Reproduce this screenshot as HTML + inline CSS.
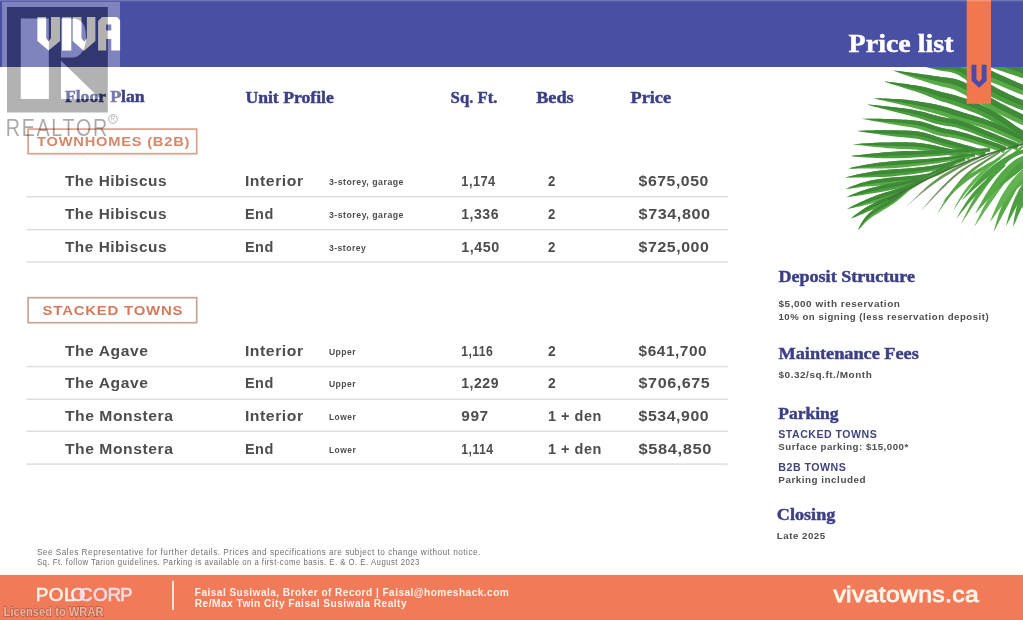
<!DOCTYPE html>
<html><head><meta charset="utf-8"><title>Price list</title>
<style>html,body{margin:0;padding:0;background:#fff;width:1023px;height:620px;overflow:hidden;font-family:"Liberation Sans", sans-serif}svg{display:block;will-change:transform}</style>
</head><body>
<svg width="1023" height="620" viewBox="0 0 1023 620">
<rect width="1023" height="620" fill="#ffffff"/>
<path d="M950.0,52.0 L953.7,53.7 L957.8,55.5 L962.6,57.5 L967.9,59.6 L973.5,61.7 L979.0,63.7 L984.3,65.5 L989.2,67.1 L993.7,68.6 L998.0,70.0 L1002.2,71.3 L1006.3,72.7 L1010.2,74.0 L1014.0,75.3 L1017.7,76.6 L1021.3,77.7 L1024.8,78.8 L1028.1,79.9 L1031.3,80.8 L1034.4,81.7 L1037.1,82.6 L1039.6,83.3 L1041.7,83.9 L1043.6,84.5 L1046.4,75.5 L1044.5,74.9 L1042.4,74.2 L1040.0,73.4 L1037.3,72.5 L1034.3,71.5 L1031.2,70.5 L1027.9,69.3 L1024.6,68.2 L1021.1,66.9 L1017.5,65.6 L1013.8,64.1 L1009.9,62.7 L1005.8,61.1 L1001.5,59.6 L997.0,58.1 L992.2,56.8 L986.9,55.7 L981.3,54.7 L975.4,53.8 L969.5,53.1 L963.7,52.6 L958.6,52.3 L954.0,52.1 L950.0,52.0Z" fill="#4b9f3f"/><path d="M950.0,52.0 L953.8,52.9 L958.2,53.9 L963.2,55.1 L968.7,56.4 L974.5,57.8 L980.2,59.2 L985.6,60.6 L990.7,62.0 L995.3,63.4 L999.8,64.8 L1004.0,66.2 L1008.1,67.7 L1012.0,69.1 L1015.8,70.4 L1019.4,71.7 L1022.9,72.9 L1026.3,74.1 L1029.6,75.2 L1032.8,76.2 L1035.8,77.1 L1038.6,78.0 L1041.0,78.7 L1043.1,79.4 L1045.0,80.0 L1046.4,75.5 L1044.5,74.9 L1042.4,74.2 L1040.0,73.4 L1037.3,72.5 L1034.3,71.5 L1031.2,70.5 L1027.9,69.3 L1024.6,68.2 L1021.1,66.9 L1017.5,65.6 L1013.8,64.1 L1009.9,62.7 L1005.8,61.1 L1001.5,59.6 L997.0,58.1 L992.2,56.8 L986.9,55.7 L981.3,54.7 L975.4,53.8 L969.5,53.1 L963.7,52.6 L958.6,52.3 L954.0,52.1 L950.0,52.0Z" fill="#3f8a37"/><path d="M958.2,53.9 L963.2,55.1 L968.7,56.4 L974.5,57.8 L980.2,59.2 L985.6,60.6 L990.7,62.0 L995.3,63.4 L999.8,64.8 L1004.0,66.2 L1008.1,67.7 L1012.0,69.1 L1015.8,70.4 L1019.4,71.7 L1022.9,72.9 L1026.3,74.1 L1029.6,75.2 L1032.8,76.2 L1035.8,77.1 L1038.6,78.0 L1041.0,78.7 L1043.1,79.4 L1045.0,80.0" fill="none" stroke="#3a7d33" stroke-width="0.7"/><path d="M935.0,57.0 L937.1,58.0 L939.5,59.0 L942.2,60.2 L945.3,61.5 L948.6,62.9 L952.0,64.3 L955.4,65.8 L958.9,67.4 L962.3,69.0 L965.9,70.7 L969.5,72.5 L973.3,74.3 L977.2,76.1 L981.1,77.8 L985.0,79.6 L989.0,81.3 L993.1,82.9 L997.2,84.6 L1001.4,86.3 L1005.5,88.0 L1009.6,89.7 L1013.6,91.4 L1017.5,92.9 L1021.1,94.4 L1024.6,95.7 L1028.0,96.9 L1031.2,98.0 L1034.3,99.1 L1037.0,100.0 L1039.5,100.9 L1041.6,101.6 L1043.5,102.2 L1046.5,93.8 L1044.6,93.1 L1042.5,92.3 L1040.1,91.4 L1037.4,90.4 L1034.4,89.3 L1031.3,88.1 L1028.0,86.9 L1024.7,85.5 L1021.1,84.0 L1017.4,82.4 L1013.5,80.7 L1009.5,78.9 L1005.4,77.0 L1001.2,75.2 L997.1,73.4 L993.1,71.6 L989.0,69.9 L985.0,68.3 L981.0,66.8 L976.9,65.4 L972.9,64.0 L968.9,62.8 L965.0,61.7 L961.1,60.7 L957.3,59.9 L953.5,59.2 L949.8,58.6 L946.2,58.1 L942.9,57.7 L939.9,57.4 L937.3,57.2 L935.0,57.0Z" fill="#57aa46"/><path d="M935.0,57.0 L937.2,57.6 L939.7,58.2 L942.5,59.0 L945.7,59.8 L949.2,60.7 L952.8,61.8 L956.4,62.9 L960.0,64.1 L963.7,65.4 L967.4,66.8 L971.2,68.3 L975.1,69.8 L979.1,71.4 L983.0,73.1 L987.0,74.8 L991.0,76.4 L995.1,78.1 L999.2,79.9 L1003.4,81.7 L1007.5,83.4 L1011.6,85.2 L1015.5,86.9 L1019.3,88.5 L1022.9,89.9 L1026.3,91.3 L1029.6,92.5 L1032.8,93.7 L1035.8,94.8 L1038.6,95.7 L1041.0,96.6 L1043.1,97.3 L1045.0,98.0 L1046.5,93.8 L1044.6,93.1 L1042.5,92.3 L1040.1,91.4 L1037.4,90.4 L1034.4,89.3 L1031.3,88.1 L1028.0,86.9 L1024.7,85.5 L1021.1,84.0 L1017.4,82.4 L1013.5,80.7 L1009.5,78.9 L1005.4,77.0 L1001.2,75.2 L997.1,73.4 L993.1,71.6 L989.0,69.9 L985.0,68.3 L981.0,66.8 L976.9,65.4 L972.9,64.0 L968.9,62.8 L965.0,61.7 L961.1,60.7 L957.3,59.9 L953.5,59.2 L949.8,58.6 L946.2,58.1 L942.9,57.7 L939.9,57.4 L937.3,57.2 L935.0,57.0Z" fill="#3f8a37"/><path d="M939.7,58.2 L942.5,59.0 L945.7,59.8 L949.2,60.7 L952.8,61.8 L956.4,62.9 L960.0,64.1 L963.7,65.4 L967.4,66.8 L971.2,68.3 L975.1,69.8 L979.1,71.4 L983.0,73.1 L987.0,74.8 L991.0,76.4 L995.1,78.1 L999.2,79.9 L1003.4,81.7 L1007.5,83.4 L1011.6,85.2 L1015.5,86.9 L1019.3,88.5 L1022.9,89.9 L1026.3,91.3 L1029.6,92.5 L1032.8,93.7 L1035.8,94.8 L1038.6,95.7 L1041.0,96.6 L1043.1,97.3 L1045.0,98.0" fill="none" stroke="#3a7d33" stroke-width="0.7"/><path d="M925.0,66.5 L926.3,66.9 L927.7,67.4 L929.4,67.8 L931.2,68.4 L933.3,68.9 L935.4,69.5 L937.6,70.1 L939.8,70.6 L942.1,71.0 L944.4,71.3 L946.7,71.5 L948.9,71.8 L951.2,72.3 L953.5,72.9 L955.9,73.8 L958.5,75.1 L961.5,76.9 L964.7,79.1 L968.2,81.7 L972.0,84.5 L975.9,87.4 L980.0,90.2 L984.2,92.9 L988.5,95.3 L992.7,97.6 L997.0,99.6 L1001.3,101.6 L1005.5,103.4 L1009.7,105.2 L1013.6,106.8 L1017.4,108.4 L1021.1,109.8 L1024.5,111.2 L1027.9,112.5 L1031.1,113.7 L1034.2,114.9 L1037.0,115.9 L1039.4,116.7 L1041.5,117.5 L1043.4,118.2 L1046.6,109.8 L1044.7,109.1 L1042.6,108.3 L1040.2,107.3 L1037.4,106.3 L1034.5,105.1 L1031.4,103.9 L1028.1,102.5 L1024.7,101.1 L1021.2,99.5 L1017.4,97.9 L1013.5,96.2 L1009.5,94.4 L1005.5,92.5 L1001.4,90.5 L997.4,88.5 L993.6,86.3 L989.7,84.0 L985.8,81.5 L981.8,78.8 L977.7,76.2 L973.6,73.6 L969.5,71.2 L965.6,69.2 L961.9,67.7 L958.3,66.6 L955.0,65.9 L952.0,65.7 L949.2,65.7 L946.8,65.9 L944.5,66.2 L942.3,66.3 L940.2,66.5 L938.0,66.5 L935.8,66.5 L933.6,66.5 L931.5,66.5 L929.6,66.4 L927.8,66.4 L926.3,66.5 L925.0,66.5Z" fill="#4b9f3f"/><path d="M925.0,66.5 L926.3,66.7 L927.8,66.9 L929.5,67.1 L931.4,67.4 L933.4,67.7 L935.6,68.0 L937.8,68.3 L940.0,68.5 L942.2,68.7 L944.4,68.7 L946.7,68.7 L949.1,68.8 L951.6,69.0 L954.3,69.4 L957.1,70.2 L960.2,71.4 L963.5,73.1 L967.1,75.2 L970.9,77.6 L974.8,80.3 L978.8,83.1 L982.9,85.8 L987.0,88.4 L991.0,90.8 L995.1,93.0 L999.2,95.1 L1003.4,97.0 L1007.5,98.9 L1011.6,100.7 L1015.5,102.4 L1019.3,103.9 L1022.9,105.4 L1026.3,106.9 L1029.6,108.2 L1032.8,109.4 L1035.8,110.6 L1038.6,111.6 L1041.0,112.5 L1043.1,113.3 L1045.0,114.0 L1046.6,109.8 L1044.7,109.1 L1042.6,108.3 L1040.2,107.3 L1037.4,106.3 L1034.5,105.1 L1031.4,103.9 L1028.1,102.5 L1024.7,101.1 L1021.2,99.5 L1017.4,97.9 L1013.5,96.2 L1009.5,94.4 L1005.5,92.5 L1001.4,90.5 L997.4,88.5 L993.6,86.3 L989.7,84.0 L985.8,81.5 L981.8,78.8 L977.7,76.2 L973.6,73.6 L969.5,71.2 L965.6,69.2 L961.9,67.7 L958.3,66.6 L955.0,65.9 L952.0,65.7 L949.2,65.7 L946.8,65.9 L944.5,66.2 L942.3,66.3 L940.2,66.5 L938.0,66.5 L935.8,66.5 L933.6,66.5 L931.5,66.5 L929.6,66.4 L927.8,66.4 L926.3,66.5 L925.0,66.5Z" fill="#3f8a37"/><path d="M927.8,66.9 L929.5,67.1 L931.4,67.4 L933.4,67.7 L935.6,68.0 L937.8,68.3 L940.0,68.5 L942.2,68.7 L944.4,68.7 L946.7,68.7 L949.1,68.8 L951.6,69.0 L954.3,69.4 L957.1,70.2 L960.2,71.4 L963.5,73.1 L967.1,75.2 L970.9,77.6 L974.8,80.3 L978.8,83.1 L982.9,85.8 L987.0,88.4 L991.0,90.8 L995.1,93.0 L999.2,95.1 L1003.4,97.0 L1007.5,98.9 L1011.6,100.7 L1015.5,102.4 L1019.3,103.9 L1022.9,105.4 L1026.3,106.9 L1029.6,108.2 L1032.8,109.4 L1035.8,110.6 L1038.6,111.6 L1041.0,112.5 L1043.1,113.3 L1045.0,114.0" fill="none" stroke="#3a7d33" stroke-width="0.7"/><path d="M893.0,70.5 L895.5,71.5 L898.2,72.5 L901.5,73.7 L905.0,74.9 L908.7,76.2 L912.4,77.5 L915.9,78.7 L919.1,79.7 L922.0,80.6 L924.6,81.5 L927.1,82.3 L929.6,83.0 L931.9,83.7 L934.3,84.4 L936.7,85.1 L939.1,85.7 L941.5,86.4 L943.9,86.9 L946.2,87.4 L948.4,87.9 L950.6,88.5 L952.9,89.2 L955.3,90.1 L958.0,91.4 L961.1,92.9 L964.5,94.8 L968.1,96.9 L972.0,99.2 L976.1,101.5 L980.2,103.9 L984.3,106.3 L988.5,108.6 L992.6,110.7 L996.8,112.9 L1001.0,115.0 L1005.2,117.0 L1009.4,119.0 L1013.4,120.9 L1017.2,122.7 L1020.8,124.4 L1024.4,125.9 L1027.7,127.3 L1031.0,128.6 L1034.0,129.8 L1036.8,130.9 L1039.3,131.8 L1041.4,132.6 L1043.3,133.4 L1046.7,124.6 L1044.8,123.9 L1042.7,123.0 L1040.3,122.1 L1037.6,121.0 L1034.6,119.8 L1031.5,118.4 L1028.3,117.0 L1024.9,115.4 L1021.4,113.8 L1017.7,111.9 L1013.8,110.0 L1009.8,107.9 L1005.7,105.8 L1001.6,103.7 L997.5,101.5 L993.6,99.3 L989.6,97.0 L985.6,94.7 L981.6,92.2 L977.6,89.8 L973.7,87.4 L969.8,85.2 L966.0,83.2 L962.4,81.6 L959.0,80.3 L955.9,79.3 L953.0,78.6 L950.3,78.2 L947.9,77.8 L945.5,77.6 L943.2,77.3 L940.9,77.0 L938.5,76.6 L936.1,76.2 L933.7,75.9 L931.2,75.5 L928.7,75.1 L926.1,74.8 L923.4,74.4 L920.4,73.9 L917.1,73.5 L913.5,73.0 L909.6,72.5 L905.7,72.0 L902.0,71.5 L898.6,71.1 L895.6,70.7 L893.0,70.5Z" fill="#57aa46"/><path d="M893.0,70.5 L895.5,71.1 L898.4,71.8 L901.7,72.6 L905.4,73.4 L909.2,74.3 L912.9,75.2 L916.5,76.1 L919.7,76.8 L922.7,77.5 L925.4,78.1 L927.9,78.7 L930.4,79.2 L932.8,79.8 L935.2,80.3 L937.6,80.8 L940.0,81.4 L942.4,81.8 L944.7,82.2 L947.0,82.6 L949.4,83.0 L951.8,83.6 L954.4,84.3 L957.2,85.2 L960.2,86.5 L963.5,88.1 L967.1,90.0 L970.9,92.1 L974.8,94.5 L978.8,96.9 L982.9,99.3 L987.0,101.7 L991.0,103.9 L995.1,106.1 L999.2,108.3 L1003.4,110.4 L1007.5,112.5 L1011.6,114.5 L1015.5,116.4 L1019.3,118.2 L1022.9,119.9 L1026.3,121.4 L1029.6,122.9 L1032.8,124.2 L1035.8,125.4 L1038.6,126.5 L1041.0,127.4 L1043.1,128.3 L1045.0,129.0 L1046.7,124.6 L1044.8,123.9 L1042.7,123.0 L1040.3,122.1 L1037.6,121.0 L1034.6,119.8 L1031.5,118.4 L1028.3,117.0 L1024.9,115.4 L1021.4,113.8 L1017.7,111.9 L1013.8,110.0 L1009.8,107.9 L1005.7,105.8 L1001.6,103.7 L997.5,101.5 L993.6,99.3 L989.6,97.0 L985.6,94.7 L981.6,92.2 L977.6,89.8 L973.7,87.4 L969.8,85.2 L966.0,83.2 L962.4,81.6 L959.0,80.3 L955.9,79.3 L953.0,78.6 L950.3,78.2 L947.9,77.8 L945.5,77.6 L943.2,77.3 L940.9,77.0 L938.5,76.6 L936.1,76.2 L933.7,75.9 L931.2,75.5 L928.7,75.1 L926.1,74.8 L923.4,74.4 L920.4,73.9 L917.1,73.5 L913.5,73.0 L909.6,72.5 L905.7,72.0 L902.0,71.5 L898.6,71.1 L895.6,70.7 L893.0,70.5Z" fill="#3f8a37"/><path d="M898.4,71.8 L901.7,72.6 L905.4,73.4 L909.2,74.3 L912.9,75.2 L916.5,76.1 L919.7,76.8 L922.7,77.5 L925.4,78.1 L927.9,78.7 L930.4,79.2 L932.8,79.8 L935.2,80.3 L937.6,80.8 L940.0,81.4 L942.4,81.8 L944.7,82.2 L947.0,82.6 L949.4,83.0 L951.8,83.6 L954.4,84.3 L957.2,85.2 L960.2,86.5 L963.5,88.1 L967.1,90.0 L970.9,92.1 L974.8,94.5 L978.8,96.9 L982.9,99.3 L987.0,101.7 L991.0,103.9 L995.1,106.1 L999.2,108.3 L1003.4,110.4 L1007.5,112.5 L1011.6,114.5 L1015.5,116.4 L1019.3,118.2 L1022.9,119.9 L1026.3,121.4 L1029.6,122.9 L1032.8,124.2 L1035.8,125.4 L1038.6,126.5 L1041.0,127.4 L1043.1,128.3 L1045.0,129.0" fill="none" stroke="#3a7d33" stroke-width="0.7"/><path d="M884.0,81.5 L887.4,82.7 L891.2,83.9 L895.6,85.3 L900.5,86.8 L905.5,88.4 L910.4,89.9 L914.8,91.3 L918.7,92.5 L922.0,93.7 L924.8,94.7 L927.3,95.7 L929.6,96.7 L931.8,97.6 L934.0,98.5 L936.3,99.5 L938.7,100.3 L941.1,101.2 L943.5,101.9 L945.8,102.6 L948.1,103.3 L950.5,104.0 L953.0,104.8 L955.6,105.7 L958.6,106.8 L961.8,108.0 L965.3,109.3 L969.1,110.7 L973.0,112.2 L976.9,113.8 L980.9,115.5 L984.8,117.4 L988.7,119.4 L992.6,121.6 L996.6,124.1 L1000.7,126.8 L1004.9,129.6 L1009.0,132.4 L1013.1,135.1 L1017.0,137.5 L1020.8,139.6 L1024.5,141.4 L1028.1,142.8 L1031.5,144.0 L1034.6,144.9 L1037.5,145.6 L1040.0,146.2 L1042.1,146.7 L1044.0,147.1 L1046.0,138.9 L1044.1,138.4 L1042.0,137.8 L1039.6,137.2 L1037.0,136.5 L1034.1,135.7 L1031.2,134.6 L1028.1,133.3 L1025.0,131.8 L1021.6,129.8 L1018.0,127.5 L1014.2,124.9 L1010.1,122.1 L1006.0,119.1 L1001.8,116.2 L997.5,113.5 L993.3,111.0 L989.1,108.8 L984.9,106.7 L980.8,104.8 L976.7,103.1 L972.7,101.5 L968.9,100.0 L965.3,98.6 L961.9,97.4 L958.7,96.4 L955.8,95.5 L953.1,94.8 L950.6,94.2 L948.2,93.6 L945.9,93.1 L943.6,92.5 L941.3,92.0 L939.1,91.3 L936.8,90.7 L934.6,90.0 L932.2,89.3 L929.7,88.5 L927.0,87.8 L923.9,87.1 L920.3,86.3 L916.2,85.6 L911.5,84.9 L906.4,84.1 L901.2,83.4 L896.2,82.8 L891.6,82.3 L887.6,81.8 L884.0,81.5Z" fill="#4b9f3f"/><path d="M884.0,81.5 L887.5,82.2 L891.4,83.1 L895.9,84.1 L900.9,85.1 L906.0,86.2 L910.9,87.4 L915.5,88.4 L919.5,89.4 L922.9,90.4 L925.9,91.3 L928.5,92.1 L930.9,93.0 L933.2,93.8 L935.4,94.6 L937.7,95.4 L940.0,96.2 L942.4,96.9 L944.7,97.5 L947.0,98.1 L949.4,98.7 L951.8,99.4 L954.4,100.2 L957.2,101.1 L960.2,102.1 L963.5,103.3 L967.1,104.6 L970.9,106.1 L974.8,107.6 L978.8,109.3 L982.9,111.1 L987.0,113.1 L991.0,115.2 L995.1,117.6 L999.2,120.2 L1003.4,123.0 L1007.5,125.8 L1011.6,128.7 L1015.5,131.3 L1019.3,133.7 L1022.9,135.7 L1026.3,137.4 L1029.6,138.7 L1032.8,139.8 L1035.8,140.7 L1038.6,141.4 L1041.0,142.0 L1043.1,142.5 L1045.0,143.0 L1046.0,138.9 L1044.1,138.4 L1042.0,137.8 L1039.6,137.2 L1037.0,136.5 L1034.1,135.7 L1031.2,134.6 L1028.1,133.3 L1025.0,131.8 L1021.6,129.8 L1018.0,127.5 L1014.2,124.9 L1010.1,122.1 L1006.0,119.1 L1001.8,116.2 L997.5,113.5 L993.3,111.0 L989.1,108.8 L984.9,106.7 L980.8,104.8 L976.7,103.1 L972.7,101.5 L968.9,100.0 L965.3,98.6 L961.9,97.4 L958.7,96.4 L955.8,95.5 L953.1,94.8 L950.6,94.2 L948.2,93.6 L945.9,93.1 L943.6,92.5 L941.3,92.0 L939.1,91.3 L936.8,90.7 L934.6,90.0 L932.2,89.3 L929.7,88.5 L927.0,87.8 L923.9,87.1 L920.3,86.3 L916.2,85.6 L911.5,84.9 L906.4,84.1 L901.2,83.4 L896.2,82.8 L891.6,82.3 L887.6,81.8 L884.0,81.5Z" fill="#3f8a37"/><path d="M891.4,83.1 L895.9,84.1 L900.9,85.1 L906.0,86.2 L910.9,87.4 L915.5,88.4 L919.5,89.4 L922.9,90.4 L925.9,91.3 L928.5,92.1 L930.9,93.0 L933.2,93.8 L935.4,94.6 L937.7,95.4 L940.0,96.2 L942.4,96.9 L944.7,97.5 L947.0,98.1 L949.4,98.7 L951.8,99.4 L954.4,100.2 L957.2,101.1 L960.2,102.1 L963.5,103.3 L967.1,104.6 L970.9,106.1 L974.8,107.6 L978.8,109.3 L982.9,111.1 L987.0,113.1 L991.0,115.2 L995.1,117.6 L999.2,120.2 L1003.4,123.0 L1007.5,125.8 L1011.6,128.7 L1015.5,131.3 L1019.3,133.7 L1022.9,135.7 L1026.3,137.4 L1029.6,138.7 L1032.8,139.8 L1035.8,140.7 L1038.6,141.4 L1041.0,142.0 L1043.1,142.5 L1045.0,143.0" fill="none" stroke="#3a7d33" stroke-width="0.7"/><path d="M873.2,98.2 L875.7,98.8 L878.5,99.5 L881.7,100.3 L885.3,101.1 L889.0,101.9 L892.7,102.7 L896.2,103.5 L899.4,104.3 L902.2,104.9 L904.9,105.6 L907.4,106.2 L909.8,106.8 L912.1,107.5 L914.5,108.1 L916.8,108.7 L919.2,109.4 L921.7,110.0 L924.1,110.6 L926.6,111.3 L929.1,111.9 L931.5,112.6 L933.9,113.3 L936.4,113.9 L938.7,114.6 L941.1,115.4 L943.3,116.1 L945.6,116.8 L947.9,117.6 L950.3,118.4 L952.9,119.2 L955.8,120.1 L958.8,121.0 L962.2,122.0 L965.7,122.9 L969.3,123.9 L973.2,125.0 L977.1,126.1 L981.1,127.3 L985.3,128.7 L989.7,130.3 L994.4,132.2 L999.6,134.4 L1005.0,136.8 L1010.5,139.3 L1015.7,141.8 L1020.5,144.0 L1024.6,145.9 L1028.3,147.6 L1031.7,140.4 L1028.1,138.6 L1024.0,136.6 L1019.3,134.3 L1014.0,131.7 L1008.6,129.1 L1003.1,126.6 L997.8,124.2 L992.9,122.1 L988.3,120.4 L983.9,118.8 L979.7,117.4 L975.7,116.2 L971.8,115.1 L968.2,114.0 L964.7,113.0 L961.5,112.0 L958.6,111.1 L955.8,110.2 L953.3,109.3 L950.8,108.6 L948.5,107.8 L946.1,107.1 L943.7,106.4 L941.2,105.8 L938.6,105.2 L936.1,104.6 L933.5,104.1 L930.9,103.6 L928.4,103.1 L925.9,102.7 L923.3,102.3 L920.8,101.9 L918.3,101.5 L915.9,101.1 L913.5,100.8 L911.0,100.4 L908.5,100.1 L905.9,99.8 L903.1,99.6 L900.1,99.3 L896.8,99.1 L893.2,98.9 L889.5,98.7 L885.6,98.5 L882.0,98.4 L878.7,98.3 L875.8,98.2 L873.2,98.2Z" fill="#57aa46"/><path d="M873.2,98.2 L875.7,98.5 L878.6,98.9 L881.9,99.3 L885.5,99.8 L889.2,100.3 L893.0,100.8 L896.5,101.3 L899.7,101.8 L902.7,102.3 L905.4,102.7 L907.9,103.2 L910.4,103.6 L912.8,104.1 L915.2,104.6 L917.6,105.1 L920.0,105.6 L922.5,106.1 L925.0,106.7 L927.5,107.2 L930.0,107.8 L932.5,108.3 L935.0,108.9 L937.5,109.6 L940.0,110.2 L942.4,110.9 L944.7,111.6 L947.0,112.3 L949.4,113.1 L951.8,113.9 L954.4,114.7 L957.2,115.6 L960.2,116.5 L963.5,117.5 L966.9,118.5 L970.6,119.5 L974.4,120.6 L978.4,121.8 L982.5,123.1 L986.8,124.5 L991.3,126.2 L996.1,128.2 L1001.3,130.5 L1006.8,133.0 L1012.3,135.5 L1017.5,138.0 L1022.2,140.3 L1026.3,142.3 L1030.0,144.0 L1031.7,140.4 L1028.1,138.6 L1024.0,136.6 L1019.3,134.3 L1014.0,131.7 L1008.6,129.1 L1003.1,126.6 L997.8,124.2 L992.9,122.1 L988.3,120.4 L983.9,118.8 L979.7,117.4 L975.7,116.2 L971.8,115.1 L968.2,114.0 L964.7,113.0 L961.5,112.0 L958.6,111.1 L955.8,110.2 L953.3,109.3 L950.8,108.6 L948.5,107.8 L946.1,107.1 L943.7,106.4 L941.2,105.8 L938.6,105.2 L936.1,104.6 L933.5,104.1 L930.9,103.6 L928.4,103.1 L925.9,102.7 L923.3,102.3 L920.8,101.9 L918.3,101.5 L915.9,101.1 L913.5,100.8 L911.0,100.4 L908.5,100.1 L905.9,99.8 L903.1,99.6 L900.1,99.3 L896.8,99.1 L893.2,98.9 L889.5,98.7 L885.6,98.5 L882.0,98.4 L878.7,98.3 L875.8,98.2 L873.2,98.2Z" fill="#3f8a37"/><path d="M878.6,98.9 L881.9,99.3 L885.5,99.8 L889.2,100.3 L893.0,100.8 L896.5,101.3 L899.7,101.8 L902.7,102.3 L905.4,102.7 L907.9,103.2 L910.4,103.6 L912.8,104.1 L915.2,104.6 L917.6,105.1 L920.0,105.6 L922.5,106.1 L925.0,106.7 L927.5,107.2 L930.0,107.8 L932.5,108.3 L935.0,108.9 L937.5,109.6 L940.0,110.2 L942.4,110.9 L944.7,111.6 L947.0,112.3 L949.4,113.1 L951.8,113.9 L954.4,114.7 L957.2,115.6 L960.2,116.5 L963.5,117.5 L966.9,118.5 L970.6,119.5 L974.4,120.6 L978.4,121.8 L982.5,123.1 L986.8,124.5 L991.3,126.2 L996.1,128.2 L1001.3,130.5 L1006.8,133.0 L1012.3,135.5 L1017.5,138.0 L1022.2,140.3 L1026.3,142.3 L1030.0,144.0" fill="none" stroke="#3a7d33" stroke-width="0.7"/><path d="M867.0,104.6 L870.1,105.5 L873.6,106.4 L877.7,107.5 L882.1,108.7 L886.7,109.8 L891.2,111.0 L895.4,112.0 L899.1,113.0 L902.3,113.8 L905.2,114.5 L907.7,115.1 L910.1,115.8 L912.3,116.4 L914.6,117.0 L916.8,117.6 L919.1,118.3 L921.5,119.0 L923.9,119.8 L926.4,120.7 L928.8,121.5 L931.3,122.4 L933.9,123.2 L936.5,123.9 L939.0,124.6 L941.6,125.1 L944.1,125.6 L946.5,125.9 L948.8,126.2 L951.1,126.6 L953.6,127.0 L956.2,127.6 L959.1,128.4 L962.4,129.4 L965.9,130.7 L969.7,132.1 L973.7,133.6 L977.8,135.2 L981.8,136.8 L985.8,138.3 L989.7,139.8 L993.5,141.3 L997.4,142.8 L1001.2,144.3 L1005.0,145.7 L1008.5,147.0 L1011.6,148.2 L1014.3,149.2 L1016.8,150.2 L1019.2,143.8 L1016.8,142.9 L1014.1,141.8 L1011.0,140.6 L1007.5,139.2 L1003.8,137.7 L1000.0,136.2 L996.1,134.6 L992.3,133.1 L988.5,131.6 L984.6,129.9 L980.5,128.3 L976.5,126.6 L972.5,125.0 L968.6,123.5 L964.8,122.1 L961.4,121.0 L958.2,120.1 L955.2,119.3 L952.5,118.8 L950.0,118.4 L947.6,118.0 L945.4,117.7 L943.1,117.3 L940.9,116.8 L938.5,116.3 L936.1,115.6 L933.7,114.9 L931.2,114.2 L928.6,113.4 L926.1,112.7 L923.5,112.0 L921.0,111.4 L918.5,110.9 L916.1,110.4 L913.8,109.9 L911.4,109.5 L908.9,109.1 L906.3,108.7 L903.4,108.3 L900.1,107.9 L896.3,107.4 L892.0,106.9 L887.3,106.4 L882.6,105.9 L878.0,105.5 L873.9,105.1 L870.2,104.8 L867.0,104.6Z" fill="#4b9f3f"/><path d="M867.0,104.6 L870.2,105.2 L873.7,105.8 L877.8,106.5 L882.4,107.3 L887.0,108.1 L891.6,109.0 L895.8,109.7 L899.6,110.4 L902.8,111.1 L905.7,111.6 L908.3,112.1 L910.7,112.6 L913.1,113.1 L915.3,113.7 L917.7,114.2 L920.1,114.9 L922.5,115.5 L925.0,116.3 L927.5,117.0 L930.0,117.8 L932.5,118.6 L935.0,119.4 L937.5,120.1 L940.0,120.7 L942.4,121.2 L944.7,121.6 L947.0,122.0 L949.4,122.3 L951.8,122.7 L954.4,123.2 L957.2,123.8 L960.2,124.7 L963.6,125.8 L967.2,127.1 L971.1,128.5 L975.1,130.1 L979.2,131.7 L983.2,133.4 L987.1,134.9 L991.0,136.5 L994.8,138.0 L998.7,139.5 L1002.5,141.0 L1006.3,142.4 L1009.7,143.8 L1012.9,145.0 L1015.6,146.1 L1018.0,147.0 L1019.2,143.8 L1016.8,142.9 L1014.1,141.8 L1011.0,140.6 L1007.5,139.2 L1003.8,137.7 L1000.0,136.2 L996.1,134.6 L992.3,133.1 L988.5,131.6 L984.6,129.9 L980.5,128.3 L976.5,126.6 L972.5,125.0 L968.6,123.5 L964.8,122.1 L961.4,121.0 L958.2,120.1 L955.2,119.3 L952.5,118.8 L950.0,118.4 L947.6,118.0 L945.4,117.7 L943.1,117.3 L940.9,116.8 L938.5,116.3 L936.1,115.6 L933.7,114.9 L931.2,114.2 L928.6,113.4 L926.1,112.7 L923.5,112.0 L921.0,111.4 L918.5,110.9 L916.1,110.4 L913.8,109.9 L911.4,109.5 L908.9,109.1 L906.3,108.7 L903.4,108.3 L900.1,107.9 L896.3,107.4 L892.0,106.9 L887.3,106.4 L882.6,105.9 L878.0,105.5 L873.9,105.1 L870.2,104.8 L867.0,104.6Z" fill="#3f8a37"/><path d="M873.7,105.8 L877.8,106.5 L882.4,107.3 L887.0,108.1 L891.6,109.0 L895.8,109.7 L899.6,110.4 L902.8,111.1 L905.7,111.6 L908.3,112.1 L910.7,112.6 L913.1,113.1 L915.3,113.7 L917.7,114.2 L920.1,114.9 L922.5,115.5 L925.0,116.3 L927.5,117.0 L930.0,117.8 L932.5,118.6 L935.0,119.4 L937.5,120.1 L940.0,120.7 L942.4,121.2 L944.7,121.6 L947.0,122.0 L949.4,122.3 L951.8,122.7 L954.4,123.2 L957.2,123.8 L960.2,124.7 L963.6,125.8 L967.2,127.1 L971.1,128.5 L975.1,130.1 L979.2,131.7 L983.2,133.4 L987.1,134.9 L991.0,136.5 L994.8,138.0 L998.7,139.5 L1002.5,141.0 L1006.3,142.4 L1009.7,143.8 L1012.9,145.0 L1015.6,146.1 L1018.0,147.0" fill="none" stroke="#3a7d33" stroke-width="0.7"/><path d="M861.7,118.8 L865.4,119.6 L869.5,120.3 L874.3,121.2 L879.6,122.1 L885.0,123.1 L890.2,124.0 L895.0,124.7 L899.1,125.4 L902.7,126.0 L905.7,126.4 L908.3,126.8 L910.6,127.2 L912.8,127.6 L914.8,128.0 L917.0,128.4 L919.2,129.0 L921.5,129.7 L923.8,130.4 L926.2,131.3 L928.7,132.1 L931.2,133.0 L933.8,133.9 L936.4,134.7 L939.0,135.4 L941.5,136.0 L944.0,136.5 L946.4,136.9 L948.8,137.3 L951.1,137.6 L953.6,138.1 L956.4,138.6 L959.4,139.3 L962.8,140.2 L966.5,141.2 L970.6,142.4 L974.8,143.7 L978.9,144.9 L982.8,146.1 L986.4,147.3 L989.6,148.3 L992.3,149.1 L994.7,149.9 L996.8,150.6 L998.6,151.3 L1000.2,151.8 L1001.5,152.3 L1002.7,152.8 L1003.8,153.2 L1006.2,146.8 L1005.1,146.4 L1003.9,145.9 L1002.6,145.4 L1000.9,144.8 L999.1,144.1 L996.9,143.3 L994.5,142.5 L991.8,141.6 L988.6,140.5 L985.0,139.3 L981.1,138.0 L976.9,136.7 L972.7,135.4 L968.6,134.1 L964.8,133.0 L961.2,132.0 L958.0,131.2 L955.1,130.5 L952.5,130.0 L950.0,129.6 L947.7,129.2 L945.4,128.8 L943.2,128.3 L940.9,127.8 L938.6,127.1 L936.2,126.3 L933.8,125.5 L931.3,124.6 L928.8,123.8 L926.2,122.9 L923.6,122.2 L921.0,121.6 L918.5,121.1 L916.1,120.7 L913.8,120.4 L911.5,120.2 L909.0,120.0 L906.4,119.8 L903.3,119.7 L899.8,119.5 L895.5,119.3 L890.7,119.1 L885.4,119.0 L879.9,118.8 L874.5,118.8 L869.7,118.7 L865.4,118.7 L861.7,118.8Z" fill="#57aa46"/><path d="M861.7,118.8 L865.4,119.1 L869.6,119.5 L874.4,120.0 L879.7,120.5 L885.2,121.0 L890.4,121.5 L895.3,122.0 L899.4,122.4 L903.0,122.8 L906.0,123.1 L908.7,123.4 L911.0,123.7 L913.3,124.0 L915.5,124.3 L917.7,124.8 L920.1,125.3 L922.5,125.9 L925.0,126.7 L927.5,127.5 L930.0,128.4 L932.5,129.3 L935.0,130.1 L937.5,130.9 L940.0,131.6 L942.4,132.2 L944.7,132.7 L947.0,133.1 L949.4,133.4 L951.8,133.8 L954.4,134.3 L957.2,134.9 L960.3,135.7 L963.8,136.6 L967.6,137.7 L971.7,138.9 L975.8,140.2 L980.0,141.5 L983.9,142.7 L987.5,143.9 L990.7,144.9 L993.4,145.8 L995.8,146.6 L997.9,147.4 L999.8,148.0 L1001.4,148.6 L1002.7,149.1 L1003.9,149.6 L1005.0,150.0 L1006.2,146.8 L1005.1,146.4 L1003.9,145.9 L1002.6,145.4 L1000.9,144.8 L999.1,144.1 L996.9,143.3 L994.5,142.5 L991.8,141.6 L988.6,140.5 L985.0,139.3 L981.1,138.0 L976.9,136.7 L972.7,135.4 L968.6,134.1 L964.8,133.0 L961.2,132.0 L958.0,131.2 L955.1,130.5 L952.5,130.0 L950.0,129.6 L947.7,129.2 L945.4,128.8 L943.2,128.3 L940.9,127.8 L938.6,127.1 L936.2,126.3 L933.8,125.5 L931.3,124.6 L928.8,123.8 L926.2,122.9 L923.6,122.2 L921.0,121.6 L918.5,121.1 L916.1,120.7 L913.8,120.4 L911.5,120.2 L909.0,120.0 L906.4,119.8 L903.3,119.7 L899.8,119.5 L895.5,119.3 L890.7,119.1 L885.4,119.0 L879.9,118.8 L874.5,118.8 L869.7,118.7 L865.4,118.7 L861.7,118.8Z" fill="#3f8a37"/><path d="M869.6,119.5 L874.4,120.0 L879.7,120.5 L885.2,121.0 L890.4,121.5 L895.3,122.0 L899.4,122.4 L903.0,122.8 L906.0,123.1 L908.7,123.4 L911.0,123.7 L913.3,124.0 L915.5,124.3 L917.7,124.8 L920.1,125.3 L922.5,125.9 L925.0,126.7 L927.5,127.5 L930.0,128.4 L932.5,129.3 L935.0,130.1 L937.5,130.9 L940.0,131.6 L942.4,132.2 L944.7,132.7 L947.0,133.1 L949.4,133.4 L951.8,133.8 L954.4,134.3 L957.2,134.9 L960.3,135.7 L963.8,136.6 L967.6,137.7 L971.7,138.9 L975.8,140.2 L980.0,141.5 L983.9,142.7 L987.5,143.9 L990.7,144.9 L993.4,145.8 L995.8,146.6 L997.9,147.4 L999.8,148.0 L1001.4,148.6 L1002.7,149.1 L1003.9,149.6 L1005.0,150.0" fill="none" stroke="#3a7d33" stroke-width="0.7"/><path d="M857.0,131.0 L861.2,131.7 L865.9,132.5 L871.3,133.3 L877.2,134.1 L883.3,135.0 L889.2,135.7 L894.6,136.4 L899.1,136.9 L902.9,137.3 L906.1,137.6 L908.7,137.8 L911.0,138.0 L913.1,138.3 L915.1,138.5 L917.2,138.8 L919.4,139.3 L921.7,139.8 L924.0,140.4 L926.4,141.0 L928.9,141.7 L931.4,142.5 L933.9,143.3 L936.4,144.1 L939.0,144.8 L941.4,145.5 L943.9,146.2 L946.3,146.9 L948.8,147.5 L951.3,148.2 L953.8,148.9 L956.5,149.6 L959.3,150.3 L962.4,151.2 L965.7,152.1 L969.2,153.0 L972.7,154.0 L976.1,154.9 L979.2,155.7 L981.8,156.4 L984.1,157.1 L985.9,150.9 L983.5,150.3 L980.9,149.5 L977.9,148.6 L974.5,147.6 L971.0,146.6 L967.5,145.6 L964.2,144.7 L961.1,143.8 L958.3,143.0 L955.7,142.2 L953.1,141.5 L950.7,140.8 L948.2,140.1 L945.8,139.4 L943.4,138.7 L941.0,137.9 L938.6,137.2 L936.1,136.4 L933.6,135.5 L931.1,134.7 L928.6,133.9 L926.0,133.2 L923.4,132.5 L920.8,131.9 L918.4,131.5 L916.1,131.2 L913.8,130.9 L911.6,130.8 L909.2,130.7 L906.5,130.6 L903.3,130.5 L899.5,130.4 L894.9,130.3 L889.6,130.3 L883.6,130.3 L877.5,130.3 L871.5,130.5 L866.0,130.6 L861.2,130.8 L857.0,131.0Z" fill="#4b9f3f"/><path d="M857.0,131.0 L861.2,131.3 L865.9,131.5 L871.4,131.9 L877.4,132.2 L883.5,132.6 L889.4,133.0 L894.8,133.4 L899.3,133.7 L903.1,133.9 L906.3,134.1 L908.9,134.3 L911.3,134.4 L913.5,134.6 L915.6,134.8 L917.8,135.2 L920.1,135.6 L922.5,136.1 L925.0,136.8 L927.5,137.5 L930.0,138.2 L932.5,139.0 L935.0,139.8 L937.5,140.6 L940.0,141.4 L942.4,142.1 L944.9,142.8 L947.3,143.5 L949.7,144.1 L952.2,144.8 L954.7,145.5 L957.4,146.3 L960.2,147.1 L963.3,147.9 L966.6,148.9 L970.1,149.8 L973.6,150.8 L977.0,151.8 L980.0,152.6 L982.7,153.3 L985.0,154.0 L985.9,150.9 L983.5,150.3 L980.9,149.5 L977.9,148.6 L974.5,147.6 L971.0,146.6 L967.5,145.6 L964.2,144.7 L961.1,143.8 L958.3,143.0 L955.7,142.2 L953.1,141.5 L950.7,140.8 L948.2,140.1 L945.8,139.4 L943.4,138.7 L941.0,137.9 L938.6,137.2 L936.1,136.4 L933.6,135.5 L931.1,134.7 L928.6,133.9 L926.0,133.2 L923.4,132.5 L920.8,131.9 L918.4,131.5 L916.1,131.2 L913.8,130.9 L911.6,130.8 L909.2,130.7 L906.5,130.6 L903.3,130.5 L899.5,130.4 L894.9,130.3 L889.6,130.3 L883.6,130.3 L877.5,130.3 L871.5,130.5 L866.0,130.6 L861.2,130.8 L857.0,131.0Z" fill="#3f8a37"/><path d="M865.9,131.5 L871.4,131.9 L877.4,132.2 L883.5,132.6 L889.4,133.0 L894.8,133.4 L899.3,133.7 L903.1,133.9 L906.3,134.1 L908.9,134.3 L911.3,134.4 L913.5,134.6 L915.6,134.8 L917.8,135.2 L920.1,135.6 L922.5,136.1 L925.0,136.8 L927.5,137.5 L930.0,138.2 L932.5,139.0 L935.0,139.8 L937.5,140.6 L940.0,141.4 L942.4,142.1 L944.9,142.8 L947.3,143.5 L949.7,144.1 L952.2,144.8 L954.7,145.5 L957.4,146.3 L960.2,147.1 L963.3,147.9 L966.6,148.9 L970.1,149.8 L973.6,150.8 L977.0,151.8 L980.0,152.6 L982.7,153.3 L985.0,154.0" fill="none" stroke="#3a7d33" stroke-width="0.7"/><path d="M852.9,144.3 L857.5,145.0 L862.7,145.6 L868.7,146.3 L875.3,147.0 L882.0,147.6 L888.4,148.2 L894.2,148.6 L899.1,148.9 L903.1,149.1 L906.4,149.2 L909.1,149.3 L911.4,149.4 L913.5,149.5 L915.5,149.6 L917.5,149.7 L919.7,149.9 L922.0,150.2 L924.3,150.5 L926.5,150.8 L928.8,151.2 L931.2,151.6 L933.8,152.1 L936.6,152.6 L939.7,153.3 L943.1,154.0 L947.0,154.8 L951.2,155.8 L955.4,156.7 L959.5,157.6 L963.2,158.5 L966.4,159.2 L969.3,159.9 L970.7,154.1 L967.8,153.4 L964.6,152.6 L960.9,151.7 L956.8,150.7 L952.6,149.6 L948.4,148.6 L944.5,147.7 L941.0,146.9 L937.9,146.2 L935.1,145.6 L932.5,145.1 L930.0,144.6 L927.6,144.2 L925.2,143.8 L922.8,143.4 L920.5,143.1 L918.1,142.9 L916.0,142.7 L913.8,142.5 L911.7,142.4 L909.3,142.4 L906.6,142.3 L903.3,142.3 L899.3,142.3 L894.4,142.3 L888.6,142.4 L882.1,142.5 L875.4,142.8 L868.8,143.2 L862.8,143.5 L857.5,143.9 L852.9,144.3Z" fill="#57aa46"/><path d="M852.9,144.3 L857.5,144.4 L862.7,144.6 L868.7,144.7 L875.3,144.9 L882.0,145.1 L888.5,145.3 L894.3,145.4 L899.2,145.6 L903.2,145.7 L906.5,145.8 L909.2,145.9 L911.5,145.9 L913.7,146.0 L915.7,146.1 L917.8,146.3 L920.1,146.5 L922.4,146.8 L924.7,147.1 L927.1,147.5 L929.4,147.9 L931.9,148.4 L934.4,148.9 L937.2,149.4 L940.3,150.1 L943.8,150.9 L947.7,151.7 L951.9,152.7 L956.1,153.7 L960.2,154.7 L963.9,155.6 L967.1,156.3 L970.0,157.0 L970.7,154.1 L967.8,153.4 L964.6,152.6 L960.9,151.7 L956.8,150.7 L952.6,149.6 L948.4,148.6 L944.5,147.7 L941.0,146.9 L937.9,146.2 L935.1,145.6 L932.5,145.1 L930.0,144.6 L927.6,144.2 L925.2,143.8 L922.8,143.4 L920.5,143.1 L918.1,142.9 L916.0,142.7 L913.8,142.5 L911.7,142.4 L909.3,142.4 L906.6,142.3 L903.3,142.3 L899.3,142.3 L894.4,142.3 L888.6,142.4 L882.1,142.5 L875.4,142.8 L868.8,143.2 L862.8,143.5 L857.5,143.9 L852.9,144.3Z" fill="#3f8a37"/><path d="M862.7,144.6 L868.7,144.7 L875.3,144.9 L882.0,145.1 L888.5,145.3 L894.3,145.4 L899.2,145.6 L903.2,145.7 L906.5,145.8 L909.2,145.9 L911.5,145.9 L913.7,146.0 L915.7,146.1 L917.8,146.3 L920.1,146.5 L922.4,146.8 L924.7,147.1 L927.1,147.5 L929.4,147.9 L931.9,148.4 L934.4,148.9 L937.2,149.4 L940.3,150.1 L943.8,150.9 L947.7,151.7 L951.9,152.7 L956.1,153.7 L960.2,154.7 L963.9,155.6 L967.1,156.3 L970.0,157.0" fill="none" stroke="#3a7d33" stroke-width="0.7"/><path d="M850.7,156.0 L852.0,156.2 L853.4,156.4 L855.0,156.5 L857.0,156.8 L859.4,157.0 L862.4,157.2 L866.2,157.5 L870.8,157.8 L876.4,158.0 L882.8,158.2 L890.0,158.3 L897.8,158.2 L905.9,158.0 L914.1,157.5 L922.2,157.0 L930.2,156.5 L938.4,155.9 L946.7,155.3 L955.2,154.6 L963.5,153.9 L971.4,153.3 L978.5,152.7 L984.6,152.2 L990.1,151.7 L989.9,148.3 L984.4,148.5 L978.2,148.7 L971.1,149.0 L963.3,149.3 L954.9,149.6 L946.4,149.9 L938.1,150.2 L929.9,150.5 L921.9,150.7 L913.8,150.9 L905.6,151.0 L897.6,151.4 L889.8,152.0 L882.6,152.6 L876.2,153.2 L870.7,153.8 L866.1,154.3 L862.4,154.7 L859.4,155.0 L856.9,155.3 L855.0,155.5 L853.4,155.7 L852.0,155.8 L850.7,156.0Z" fill="#4b9f3f"/><path d="M850.7,156.0 L852.0,156.0 L853.4,156.0 L855.0,156.0 L857.0,156.0 L859.4,156.0 L862.4,156.0 L866.2,155.9 L870.8,155.8 L876.3,155.6 L882.7,155.4 L889.9,155.1 L897.7,154.8 L905.8,154.5 L913.9,154.2 L922.0,153.8 L930.1,153.5 L938.2,153.1 L946.6,152.6 L955.0,152.1 L963.4,151.6 L971.3,151.1 L978.4,150.7 L984.5,150.3 L990.0,150.0 L989.9,148.3 L984.4,148.5 L978.2,148.7 L971.1,149.0 L963.3,149.3 L954.9,149.6 L946.4,149.9 L938.1,150.2 L929.9,150.5 L921.9,150.7 L913.8,150.9 L905.6,151.0 L897.6,151.4 L889.8,152.0 L882.6,152.6 L876.2,153.2 L870.7,153.8 L866.1,154.3 L862.4,154.7 L859.4,155.0 L856.9,155.3 L855.0,155.5 L853.4,155.7 L852.0,155.8 L850.7,156.0Z" fill="#3f8a37"/><path d="M853.4,156.0 L855.0,156.0 L857.0,156.0 L859.4,156.0 L862.4,156.0 L866.2,155.9 L870.8,155.8 L876.3,155.6 L882.7,155.4 L889.9,155.1 L897.7,154.8 L905.8,154.5 L913.9,154.2 L922.0,153.8 L930.1,153.5 L938.2,153.1 L946.6,152.6 L955.0,152.1 L963.4,151.6 L971.3,151.1 L978.4,150.7 L984.5,150.3 L990.0,150.0" fill="none" stroke="#3a7d33" stroke-width="0.7"/><path d="M848.0,168.6 L849.6,168.6 L851.3,168.7 L853.3,168.7 L855.7,168.7 L858.6,168.6 L862.0,168.6 L866.0,168.6 L870.9,168.6 L876.8,168.6 L883.5,168.4 L891.0,168.2 L899.0,167.7 L907.1,166.9 L915.1,166.1 L922.8,165.2 L930.0,164.3 L936.9,163.4 L943.6,162.3 L950.1,161.3 L956.2,160.2 L961.9,159.2 L967.0,158.2 L971.4,157.4 L975.3,156.7 L974.7,153.3 L970.8,153.8 L966.4,154.4 L961.3,155.1 L955.6,155.9 L949.4,156.7 L942.9,157.4 L936.3,158.1 L929.4,158.8 L922.2,159.3 L914.6,159.8 L906.6,160.3 L898.4,160.7 L890.5,161.4 L883.0,162.2 L876.3,163.0 L870.6,163.9 L865.7,164.7 L861.7,165.5 L858.3,166.2 L855.5,166.8 L853.2,167.3 L851.2,167.8 L849.5,168.2 L848.0,168.6Z" fill="#57aa46"/><path d="M848.0,168.6 L849.6,168.4 L851.3,168.2 L853.2,168.0 L855.6,167.7 L858.4,167.4 L861.8,167.1 L865.9,166.7 L870.8,166.3 L876.6,165.8 L883.3,165.3 L890.7,164.8 L898.7,164.2 L906.8,163.6 L914.8,162.9 L922.5,162.3 L929.7,161.5 L936.6,160.7 L943.3,159.9 L949.7,159.0 L955.9,158.0 L961.6,157.1 L966.7,156.3 L971.1,155.6 L975.0,155.0 L974.7,153.3 L970.8,153.8 L966.4,154.4 L961.3,155.1 L955.6,155.9 L949.4,156.7 L942.9,157.4 L936.3,158.1 L929.4,158.8 L922.2,159.3 L914.6,159.8 L906.6,160.3 L898.4,160.7 L890.5,161.4 L883.0,162.2 L876.3,163.0 L870.6,163.9 L865.7,164.7 L861.7,165.5 L858.3,166.2 L855.5,166.8 L853.2,167.3 L851.2,167.8 L849.5,168.2 L848.0,168.6Z" fill="#3f8a37"/><path d="M851.3,168.2 L853.2,168.0 L855.6,167.7 L858.4,167.4 L861.8,167.1 L865.9,166.7 L870.8,166.3 L876.6,165.8 L883.3,165.3 L890.7,164.8 L898.7,164.2 L906.8,163.6 L914.8,162.9 L922.5,162.3 L929.7,161.5 L936.6,160.7 L943.3,159.9 L949.7,159.0 L955.9,158.0 L961.6,157.1 L966.7,156.3 L971.1,155.6 L975.0,155.0" fill="none" stroke="#3a7d33" stroke-width="0.7"/><path d="M845.4,177.6 L847.3,177.6 L849.3,177.6 L851.7,177.6 L854.4,177.6 L857.7,177.6 L861.4,177.5 L865.8,177.4 L871.0,177.3 L877.0,177.1 L884.0,176.9 L891.6,176.4 L899.7,175.6 L907.9,174.7 L915.8,173.7 L923.2,172.6 L929.9,171.5 L936.0,170.2 L941.6,168.8 L946.8,167.2 L951.5,165.7 L955.8,164.2 L959.5,162.9 L962.7,161.7 L965.6,160.7 L964.4,157.3 L961.5,158.2 L958.3,159.2 L954.5,160.4 L950.3,161.7 L945.6,163.0 L940.5,164.2 L935.0,165.3 L929.0,166.3 L922.4,167.1 L915.1,167.8 L907.3,168.4 L899.1,168.9 L891.0,169.4 L883.4,170.2 L876.5,171.1 L870.5,172.0 L865.4,172.9 L861.0,173.8 L857.3,174.6 L854.2,175.3 L851.5,176.0 L849.2,176.6 L847.2,177.1 L845.4,177.6Z" fill="#4b9f3f"/><path d="M845.4,177.6 L847.2,177.4 L849.2,177.1 L851.6,176.8 L854.3,176.5 L857.5,176.1 L861.2,175.7 L865.6,175.2 L870.7,174.7 L876.8,174.1 L883.7,173.5 L891.3,172.9 L899.4,172.3 L907.6,171.5 L915.5,170.7 L922.8,169.9 L929.5,168.9 L935.5,167.8 L941.1,166.5 L946.2,165.1 L950.9,163.7 L955.1,162.3 L958.9,161.1 L962.1,160.0 L965.0,159.0 L964.4,157.3 L961.5,158.2 L958.3,159.2 L954.5,160.4 L950.3,161.7 L945.6,163.0 L940.5,164.2 L935.0,165.3 L929.0,166.3 L922.4,167.1 L915.1,167.8 L907.3,168.4 L899.1,168.9 L891.0,169.4 L883.4,170.2 L876.5,171.1 L870.5,172.0 L865.4,172.9 L861.0,173.8 L857.3,174.6 L854.2,175.3 L851.5,176.0 L849.2,176.6 L847.2,177.1 L845.4,177.6Z" fill="#3f8a37"/><path d="M849.2,177.1 L851.6,176.8 L854.3,176.5 L857.5,176.1 L861.2,175.7 L865.6,175.2 L870.7,174.7 L876.8,174.1 L883.7,173.5 L891.3,172.9 L899.4,172.3 L907.6,171.5 L915.5,170.7 L922.8,169.9 L929.5,168.9 L935.5,167.8 L941.1,166.5 L946.2,165.1 L950.9,163.7 L955.1,162.3 L958.9,161.1 L962.1,160.0 L965.0,159.0" fill="none" stroke="#3a7d33" stroke-width="0.7"/><path d="M845.4,189.2 L847.3,189.0 L849.4,188.7 L851.8,188.3 L854.6,187.9 L857.9,187.5 L861.6,187.0 L866.0,186.6 L871.2,186.2 L877.3,185.7 L884.3,185.2 L892.1,184.4 L900.3,183.3 L908.6,182.2 L916.4,181.0 L923.6,179.7 L929.8,178.3 L935.2,176.6 L939.7,174.8 L943.6,172.8 L946.9,170.8 L949.8,168.9 L952.1,167.2 L954.1,165.7 L956.0,164.5 L954.0,161.5 L952.1,162.8 L950.0,164.1 L947.6,165.7 L944.9,167.3 L941.7,169.0 L938.0,170.7 L933.7,172.1 L928.6,173.4 L922.6,174.5 L915.6,175.4 L907.8,176.2 L899.6,176.9 L891.4,177.5 L883.6,178.4 L876.5,179.5 L870.4,180.6 L865.2,181.9 L860.8,183.1 L857.1,184.4 L854.0,185.5 L851.3,186.6 L849.1,187.6 L847.1,188.4 L845.4,189.2Z" fill="#57aa46"/><path d="M845.4,189.2 L847.2,188.7 L849.2,188.1 L851.6,187.5 L854.3,186.7 L857.5,185.9 L861.2,185.1 L865.6,184.3 L870.8,183.4 L876.9,182.6 L883.9,181.8 L891.8,181.0 L900.0,180.1 L908.2,179.2 L916.0,178.2 L923.1,177.1 L929.2,175.8 L934.4,174.4 L938.9,172.7 L942.6,170.9 L945.9,169.1 L948.7,167.3 L951.1,165.7 L953.1,164.3 L955.0,163.0 L954.0,161.5 L952.1,162.8 L950.0,164.1 L947.6,165.7 L944.9,167.3 L941.7,169.0 L938.0,170.7 L933.7,172.1 L928.6,173.4 L922.6,174.5 L915.6,175.4 L907.8,176.2 L899.6,176.9 L891.4,177.5 L883.6,178.4 L876.5,179.5 L870.4,180.6 L865.2,181.9 L860.8,183.1 L857.1,184.4 L854.0,185.5 L851.3,186.6 L849.1,187.6 L847.1,188.4 L845.4,189.2Z" fill="#3f8a37"/><path d="M849.2,188.1 L851.6,187.5 L854.3,186.7 L857.5,185.9 L861.2,185.1 L865.6,184.3 L870.8,183.4 L876.9,182.6 L883.9,181.8 L891.8,181.0 L900.0,180.1 L908.2,179.2 L916.0,178.2 L923.1,177.1 L929.2,175.8 L934.4,174.4 L938.9,172.7 L942.6,170.9 L945.9,169.1 L948.7,167.3 L951.1,165.7 L953.1,164.3 L955.0,163.0" fill="none" stroke="#3a7d33" stroke-width="0.7"/><path d="M846.3,197.2 L848.2,197.0 L850.4,196.7 L852.8,196.3 L855.6,195.9 L858.9,195.4 L862.5,194.9 L866.5,194.3 L871.1,193.6 L876.4,192.7 L882.3,191.7 L888.8,190.4 L895.5,188.9 L902.3,187.2 L908.8,185.6 L914.8,183.9 L920.2,182.2 L925.0,180.4 L929.2,178.5 L932.9,176.5 L936.3,174.5 L939.2,172.7 L941.7,171.1 L943.9,169.6 L945.8,168.4 L944.2,165.6 L942.1,166.8 L939.9,168.1 L937.3,169.6 L934.4,171.2 L931.1,172.9 L927.4,174.6 L923.3,176.2 L918.8,177.7 L913.5,179.1 L907.6,180.4 L901.1,181.7 L894.3,182.9 L887.5,184.1 L881.0,185.4 L875.2,186.9 L870.0,188.3 L865.4,189.7 L861.5,191.1 L858.0,192.3 L855.0,193.5 L852.3,194.6 L850.0,195.5 L848.1,196.4 L846.3,197.2Z" fill="#4b9f3f"/><path d="M846.3,197.2 L848.2,196.7 L850.2,196.1 L852.6,195.5 L855.3,194.7 L858.4,193.9 L862.0,193.0 L866.0,192.0 L870.6,190.9 L875.8,189.8 L881.7,188.6 L888.2,187.3 L894.9,185.9 L901.7,184.5 L908.2,183.0 L914.2,181.5 L919.5,179.9 L924.1,178.3 L928.3,176.5 L932.0,174.7 L935.3,172.9 L938.3,171.1 L940.8,169.6 L943.0,168.2 L945.0,167.0 L944.2,165.6 L942.1,166.8 L939.9,168.1 L937.3,169.6 L934.4,171.2 L931.1,172.9 L927.4,174.6 L923.3,176.2 L918.8,177.7 L913.5,179.1 L907.6,180.4 L901.1,181.7 L894.3,182.9 L887.5,184.1 L881.0,185.4 L875.2,186.9 L870.0,188.3 L865.4,189.7 L861.5,191.1 L858.0,192.3 L855.0,193.5 L852.3,194.6 L850.0,195.5 L848.1,196.4 L846.3,197.2Z" fill="#3f8a37"/><path d="M850.2,196.1 L852.6,195.5 L855.3,194.7 L858.4,193.9 L862.0,193.0 L866.0,192.0 L870.6,190.9 L875.8,189.8 L881.7,188.6 L888.2,187.3 L894.9,185.9 L901.7,184.5 L908.2,183.0 L914.2,181.5 L919.5,179.9 L924.1,178.3 L928.3,176.5 L932.0,174.7 L935.3,172.9 L938.3,171.1 L940.8,169.6 L943.0,168.2 L945.0,167.0" fill="none" stroke="#3a7d33" stroke-width="0.7"/><path d="M847.0,209.0 L849.0,208.7 L851.2,208.2 L853.8,207.7 L856.7,207.1 L859.9,206.4 L863.4,205.6 L867.2,204.6 L871.2,203.6 L875.6,202.3 L880.5,200.9 L885.6,199.2 L890.9,197.3 L896.2,195.3 L901.3,193.3 L906.2,191.2 L910.7,189.2 L914.9,187.0 L918.8,184.8 L922.5,182.6 L925.8,180.4 L928.9,178.3 L931.5,176.4 L933.8,174.8 L935.9,173.4 L934.1,170.6 L932.0,172.0 L929.6,173.5 L926.8,175.2 L923.7,177.0 L920.3,179.0 L916.7,181.0 L912.8,182.9 L908.7,184.7 L904.3,186.4 L899.4,188.1 L894.3,189.8 L888.9,191.5 L883.6,193.1 L878.4,194.8 L873.7,196.6 L869.4,198.3 L865.5,199.9 L862.0,201.5 L858.7,203.0 L855.8,204.5 L853.1,205.8 L850.8,207.0 L848.8,208.0 L847.0,209.0Z" fill="#57aa46"/><path d="M847.0,209.0 L848.9,208.3 L851.0,207.6 L853.5,206.8 L856.2,205.8 L859.3,204.7 L862.7,203.5 L866.4,202.3 L870.3,200.9 L874.7,199.4 L879.4,197.9 L884.6,196.2 L889.9,194.4 L895.2,192.6 L900.4,190.7 L905.2,188.8 L909.7,186.9 L913.9,185.0 L917.7,182.9 L921.4,180.8 L924.8,178.7 L927.8,176.7 L930.5,174.9 L932.9,173.4 L935.0,172.0 L934.1,170.6 L932.0,172.0 L929.6,173.5 L926.8,175.2 L923.7,177.0 L920.3,179.0 L916.7,181.0 L912.8,182.9 L908.7,184.7 L904.3,186.4 L899.4,188.1 L894.3,189.8 L888.9,191.5 L883.6,193.1 L878.4,194.8 L873.7,196.6 L869.4,198.3 L865.5,199.9 L862.0,201.5 L858.7,203.0 L855.8,204.5 L853.1,205.8 L850.8,207.0 L848.8,208.0 L847.0,209.0Z" fill="#3f8a37"/><path d="M851.0,207.6 L853.5,206.8 L856.2,205.8 L859.3,204.7 L862.7,203.5 L866.4,202.3 L870.3,200.9 L874.7,199.4 L879.4,197.9 L884.6,196.2 L889.9,194.4 L895.2,192.6 L900.4,190.7 L905.2,188.8 L909.7,186.9 L913.9,185.0 L917.7,182.9 L921.4,180.8 L924.8,178.7 L927.8,176.7 L930.5,174.9 L932.9,173.4 L935.0,172.0" fill="none" stroke="#3a7d33" stroke-width="0.7"/><path d="M850.7,218.7 L852.5,218.0 L854.5,217.3 L856.8,216.4 L859.3,215.3 L862.1,214.2 L865.0,212.9 L868.1,211.6 L871.3,210.3 L874.7,208.9 L878.2,207.4 L882.0,205.8 L885.9,204.0 L889.8,202.1 L893.6,200.1 L897.4,198.1 L901.1,196.0 L904.8,193.7 L908.3,191.3 L911.9,188.8 L915.3,186.3 L918.4,183.9 L921.3,181.7 L923.7,179.9 L925.9,178.2 L924.1,175.8 L921.9,177.3 L919.3,179.0 L916.4,181.0 L913.1,183.2 L909.6,185.4 L906.0,187.7 L902.4,189.8 L898.8,191.8 L895.1,193.6 L891.4,195.4 L887.5,197.1 L883.5,198.7 L879.6,200.3 L875.8,202.1 L872.3,203.9 L869.0,205.7 L866.0,207.5 L863.1,209.3 L860.4,211.2 L858.0,213.0 L855.8,214.6 L853.8,216.1 L852.2,217.5 L850.7,218.7Z" fill="#4b9f3f"/><path d="M850.7,218.7 L852.3,217.8 L854.2,216.7 L856.3,215.5 L858.7,214.1 L861.3,212.7 L864.1,211.1 L867.0,209.6 L870.2,208.0 L873.5,206.4 L877.0,204.8 L880.8,203.1 L884.7,201.4 L888.6,199.6 L892.5,197.8 L896.3,195.9 L900.0,193.9 L903.6,191.7 L907.2,189.5 L910.8,187.1 L914.2,184.7 L917.4,182.4 L920.3,180.4 L922.8,178.6 L925.0,177.0 L924.1,175.8 L921.9,177.3 L919.3,179.0 L916.4,181.0 L913.1,183.2 L909.6,185.4 L906.0,187.7 L902.4,189.8 L898.8,191.8 L895.1,193.6 L891.4,195.4 L887.5,197.1 L883.5,198.7 L879.6,200.3 L875.8,202.1 L872.3,203.9 L869.0,205.7 L866.0,207.5 L863.1,209.3 L860.4,211.2 L858.0,213.0 L855.8,214.6 L853.8,216.1 L852.2,217.5 L850.7,218.7Z" fill="#3f8a37"/><path d="M854.2,216.7 L856.3,215.5 L858.7,214.1 L861.3,212.7 L864.1,211.1 L867.0,209.6 L870.2,208.0 L873.5,206.4 L877.0,204.8 L880.8,203.1 L884.7,201.4 L888.6,199.6 L892.5,197.8 L896.3,195.9 L900.0,193.9 L903.6,191.7 L907.2,189.5 L910.8,187.1 L914.2,184.7 L917.4,182.4 L920.3,180.4 L922.8,178.6 L925.0,177.0" fill="none" stroke="#3a7d33" stroke-width="0.7"/><path d="M857.9,230.3 L859.1,229.1 L860.4,227.8 L861.9,226.2 L863.5,224.5 L865.3,222.6 L867.3,220.8 L869.4,219.0 L871.7,217.3 L874.3,215.6 L877.1,213.9 L880.2,212.1 L883.4,210.1 L886.7,208.1 L889.9,206.0 L893.1,203.9 L896.2,201.7 L899.1,199.3 L902.0,196.9 L904.9,194.4 L907.6,191.9 L910.0,189.6 L912.3,187.5 L914.2,185.7 L915.9,184.0 L914.1,182.0 L912.3,183.5 L910.2,185.2 L907.9,187.2 L905.3,189.3 L902.5,191.6 L899.6,193.9 L896.6,196.1 L893.7,198.1 L890.6,200.0 L887.4,201.9 L884.1,203.7 L880.7,205.5 L877.4,207.4 L874.2,209.3 L871.3,211.4 L868.7,213.6 L866.5,215.9 L864.6,218.3 L862.9,220.7 L861.5,223.0 L860.4,225.1 L859.4,227.1 L858.6,228.8 L857.9,230.3Z" fill="#57aa46"/><path d="M857.9,230.3 L858.9,228.9 L859.9,227.4 L861.1,225.7 L862.5,223.7 L864.1,221.7 L865.9,219.5 L868.0,217.5 L870.2,215.5 L872.8,213.5 L875.7,211.6 L878.8,209.7 L882.1,207.8 L885.4,205.9 L888.7,204.0 L891.9,202.0 L894.9,199.9 L897.9,197.7 L900.8,195.4 L903.7,193.0 L906.4,190.6 L909.0,188.4 L911.3,186.3 L913.2,184.6 L915.0,183.0 L914.1,182.0 L912.3,183.5 L910.2,185.2 L907.9,187.2 L905.3,189.3 L902.5,191.6 L899.6,193.9 L896.6,196.1 L893.7,198.1 L890.6,200.0 L887.4,201.9 L884.1,203.7 L880.7,205.5 L877.4,207.4 L874.2,209.3 L871.3,211.4 L868.7,213.6 L866.5,215.9 L864.6,218.3 L862.9,220.7 L861.5,223.0 L860.4,225.1 L859.4,227.1 L858.6,228.8 L857.9,230.3Z" fill="#3f8a37"/><path d="M859.9,227.4 L861.1,225.7 L862.5,223.7 L864.1,221.7 L865.9,219.5 L868.0,217.5 L870.2,215.5 L872.8,213.5 L875.7,211.6 L878.8,209.7 L882.1,207.8 L885.4,205.9 L888.7,204.0 L891.9,202.0 L894.9,199.9 L897.9,197.7 L900.8,195.4 L903.7,193.0 L906.4,190.6 L909.0,188.4 L911.3,186.3 L913.2,184.6 L915.0,183.0" fill="none" stroke="#3a7d33" stroke-width="0.7"/><path d="M905.0,207.7 L906.8,206.1 L908.8,204.4 L911.2,202.3 L913.8,200.1 L916.6,197.7 L919.5,195.2 L922.4,192.8 L925.3,190.5 L928.2,188.3 L931.0,186.1 L933.9,183.9 L936.8,181.7 L939.9,179.5 L943.2,177.2 L946.8,174.9 L950.9,172.6 L955.4,170.1 L960.5,167.4 L966.0,164.7 L971.7,162.0 L977.1,159.4 L982.1,157.1 L986.4,155.1 L990.2,153.4 L989.8,152.6 L986.0,154.3 L981.7,156.3 L976.7,158.5 L971.2,161.0 L965.5,163.6 L959.9,166.2 L954.7,168.8 L950.1,171.2 L946.0,173.6 L942.4,175.9 L939.0,178.2 L935.9,180.5 L933.0,182.8 L930.2,185.0 L927.4,187.3 L924.6,189.6 L921.8,192.1 L918.9,194.6 L916.1,197.1 L913.4,199.7 L910.9,202.0 L908.7,204.2 L906.7,206.0 L905.0,207.7Z" fill="#7d8d70"/><path d="M921.0,211.0 L922.7,209.2 L924.7,207.1 L926.9,204.7 L929.4,202.0 L932.1,199.2 L934.9,196.3 L937.7,193.4 L940.6,190.6 L943.4,187.9 L946.3,185.1 L949.3,182.3 L952.3,179.6 L955.4,176.8 L958.7,174.1 L962.2,171.5 L965.9,168.9 L970.0,166.3 L974.5,163.8 L979.3,161.3 L984.2,158.9 L988.9,156.7 L993.2,154.8 L996.9,153.0 L1000.2,151.5 L999.8,150.5 L996.4,152.0 L992.7,153.6 L988.4,155.5 L983.6,157.6 L978.6,159.8 L973.7,162.2 L969.0,164.7 L964.8,167.2 L960.9,169.7 L957.4,172.4 L954.0,175.2 L950.9,178.0 L947.9,180.9 L945.0,183.7 L942.2,186.6 L939.4,189.5 L936.7,192.4 L934.0,195.4 L931.3,198.5 L928.8,201.5 L926.4,204.3 L924.4,206.8 L922.6,209.0 L921.0,211.0Z" fill="#6f8f5f"/><path d="M937.0,214.0 L938.2,212.4 L939.5,210.6 L941.1,208.5 L942.8,206.1 L944.7,203.6 L946.7,200.9 L948.7,198.3 L950.9,195.6 L953.1,192.9 L955.3,190.2 L957.7,187.3 L960.1,184.5 L962.7,181.6 L965.3,178.7 L968.2,175.9 L971.2,173.1 L974.6,170.2 L978.4,167.3 L982.5,164.4 L986.7,161.6 L990.7,158.9 L994.4,156.5 L997.6,154.5 L1000.4,152.6 L999.6,151.4 L996.7,153.1 L993.5,155.0 L989.7,157.3 L985.6,159.8 L981.3,162.5 L977.0,165.3 L973.0,168.1 L969.4,170.9 L966.1,173.7 L963.2,176.7 L960.5,179.6 L958.0,182.7 L955.6,185.7 L953.4,188.6 L951.2,191.5 L949.2,194.4 L947.2,197.2 L945.4,200.0 L943.6,202.8 L941.9,205.5 L940.4,208.0 L939.1,210.3 L938.0,212.2 L937.0,214.0Z" fill="#5a9a4a"/><path d="M953.0,211.0 L954.1,209.4 L955.4,207.5 L956.8,205.4 L958.4,203.1 L960.1,200.5 L962.0,197.9 L964.0,195.3 L966.1,192.8 L968.2,190.2 L970.5,187.6 L972.9,185.0 L975.4,182.3 L978.0,179.5 L980.6,176.8 L983.4,174.0 L986.3,171.1 L989.5,168.1 L993.0,165.0 L996.7,161.9 L1000.4,158.7 L1004.0,155.7 L1007.2,153.1 L1010.0,150.8 L1012.5,148.7 L1011.5,147.3 L1008.9,149.3 L1005.9,151.5 L1002.6,154.0 L998.9,156.8 L995.0,159.8 L991.1,162.8 L987.5,165.8 L984.1,168.7 L981.0,171.5 L978.2,174.4 L975.5,177.2 L972.9,180.1 L970.5,182.9 L968.2,185.7 L966.1,188.5 L964.1,191.3 L962.2,194.1 L960.5,196.9 L958.8,199.7 L957.3,202.4 L956.0,205.0 L954.9,207.2 L953.9,209.2 L953.0,211.0Z" fill="#62b552"/><path d="M961.0,224.0 L962.4,222.0 L963.9,219.6 L965.6,217.0 L967.6,214.0 L969.7,210.8 L971.9,207.5 L974.1,204.2 L976.4,200.9 L978.7,197.6 L981.1,194.2 L983.5,190.8 L986.0,187.3 L988.5,183.8 L991.2,180.4 L993.9,176.9 L996.8,173.3 L1000.0,169.7 L1003.6,166.0 L1007.3,162.3 L1011.2,158.6 L1014.9,155.1 L1018.2,152.0 L1021.2,149.3 L1023.7,146.8 L1022.3,145.2 L1019.5,147.4 L1016.5,150.0 L1013.0,153.0 L1009.1,156.3 L1005.0,159.8 L1001.0,163.4 L997.2,167.0 L993.7,170.6 L990.5,174.1 L987.6,177.6 L985.0,181.2 L982.4,184.9 L980.1,188.5 L977.8,192.1 L975.7,195.6 L973.6,199.1 L971.6,202.6 L969.7,206.2 L967.9,209.7 L966.1,213.2 L964.6,216.4 L963.2,219.3 L962.0,221.8 L961.0,224.0Z" fill="#57aa46"/><path d="M974.0,227.0 L975.7,224.7 L977.5,222.1 L979.6,219.0 L981.9,215.7 L984.3,212.1 L986.9,208.4 L989.4,204.8 L991.9,201.3 L994.3,197.8 L996.8,194.3 L999.2,190.8 L1001.7,187.3 L1004.2,183.8 L1006.7,180.3 L1009.3,176.9 L1012.0,173.6 L1014.9,170.4 L1018.1,167.1 L1021.4,163.9 L1024.8,160.8 L1028.1,157.9 L1031.0,155.3 L1033.6,153.1 L1035.9,151.1 L1034.1,148.9 L1031.7,150.8 L1029.0,152.9 L1025.9,155.3 L1022.4,158.0 L1018.8,161.0 L1015.2,164.0 L1011.7,167.2 L1008.4,170.4 L1005.4,173.7 L1002.5,177.1 L999.8,180.5 L997.3,184.2 L994.8,187.8 L992.5,191.5 L990.3,195.2 L988.1,198.9 L986.0,202.7 L983.9,206.6 L981.8,210.6 L979.9,214.5 L978.1,218.2 L976.5,221.5 L975.2,224.4 L974.0,227.0Z" fill="#62b552"/><path d="M993.5,232.0 L994.8,229.7 L996.3,227.0 L997.9,224.0 L999.7,220.6 L1001.6,217.0 L1003.6,213.3 L1005.5,209.7 L1007.4,206.2 L1009.3,202.8 L1011.1,199.4 L1013.0,196.0 L1014.9,192.6 L1016.7,189.3 L1018.5,186.0 L1020.4,182.8 L1022.4,179.7 L1024.6,176.7 L1027.0,173.8 L1029.7,170.8 L1032.3,168.0 L1034.9,165.4 L1037.2,163.1 L1039.3,161.0 L1041.1,159.2 L1038.9,156.8 L1036.9,158.5 L1034.7,160.3 L1032.2,162.5 L1029.4,164.9 L1026.4,167.6 L1023.4,170.4 L1020.6,173.3 L1018.0,176.4 L1015.5,179.5 L1013.3,182.7 L1011.1,186.1 L1009.2,189.6 L1007.4,193.1 L1005.7,196.7 L1004.1,200.3 L1002.6,203.9 L1001.1,207.7 L999.7,211.6 L998.3,215.6 L997.1,219.5 L996.0,223.2 L995.0,226.5 L994.2,229.4 L993.5,232.0Z" fill="#57aa46"/><path d="M1013.0,227.0 L1013.9,225.1 L1015.0,222.9 L1016.1,220.4 L1017.3,217.6 L1018.6,214.6 L1019.9,211.7 L1021.2,208.8 L1022.5,206.1 L1023.7,203.6 L1025.0,201.1 L1026.2,198.7 L1027.4,196.3 L1028.7,193.9 L1029.9,191.4 L1031.2,189.0 L1032.6,186.5 L1034.1,183.9 L1035.9,181.2 L1037.8,178.5 L1039.8,175.7 L1041.7,173.2 L1043.4,170.9 L1044.9,168.8 L1046.3,167.0 L1043.7,165.0 L1042.2,166.6 L1040.5,168.5 L1038.5,170.6 L1036.4,173.0 L1034.1,175.5 L1031.8,178.2 L1029.7,180.8 L1027.8,183.3 L1026.0,185.9 L1024.4,188.3 L1022.9,190.8 L1021.7,193.4 L1020.5,196.0 L1019.4,198.6 L1018.4,201.3 L1017.5,204.2 L1016.6,207.1 L1015.9,210.3 L1015.2,213.5 L1014.5,216.7 L1014.0,219.7 L1013.6,222.5 L1013.3,224.9 L1013.0,227.0Z" fill="#4b9f3f"/><path d="M1022.0,209.0 L1023.1,207.4 L1024.2,205.5 L1025.5,203.4 L1026.9,201.0 L1028.3,198.6 L1029.7,196.1 L1031.2,193.9 L1032.6,191.8 L1034.2,189.7 L1035.8,187.5 L1037.6,185.2 L1039.5,183.1 L1041.4,181.0 L1043.1,179.2 L1044.7,177.5 L1046.0,176.1 L1044.0,173.9 L1042.4,175.1 L1040.7,176.4 L1038.6,178.0 L1036.4,179.8 L1034.1,181.7 L1031.7,183.8 L1029.5,186.0 L1027.7,188.4 L1026.2,191.1 L1025.1,193.9 L1024.1,196.8 L1023.4,199.7 L1022.9,202.4 L1022.5,204.9 L1022.2,207.1 L1022.0,209.0Z" fill="#57aa46"/><path d="M985.0,200.0 L987.0,198.4 L989.2,196.5 L991.7,194.3 L994.5,191.8 L997.6,189.1 L1000.8,186.4 L1004.2,183.6 L1007.8,180.7 L1011.8,177.6 L1016.2,174.2 L1020.8,170.3 L1025.5,166.4 L1030.1,162.6 L1034.3,159.2 L1037.9,156.3 L1041.2,153.6 L1038.8,150.4 L1035.3,152.6 L1031.3,155.1 L1026.8,158.0 L1021.7,161.1 L1016.5,164.5 L1011.4,167.9 L1006.9,171.5 L1002.9,175.1 L999.5,178.7 L996.5,182.2 L993.8,185.7 L991.5,189.2 L989.5,192.3 L987.7,195.2 L986.3,197.7 L985.0,200.0Z" fill="#4b9f3f"/><path d="M1003.0,205.0 L1004.3,203.5 L1005.8,201.7 L1007.3,199.7 L1009.1,197.4 L1011.1,195.0 L1013.3,192.6 L1015.7,190.1 L1018.4,187.6 L1021.6,184.9 L1025.2,181.8 L1029.1,178.1 L1033.0,174.3 L1036.9,170.6 L1040.5,167.2 L1043.6,164.3 L1046.4,161.8 L1043.6,158.2 L1040.5,160.3 L1036.9,162.7 L1032.8,165.4 L1028.3,168.5 L1023.7,171.7 L1019.3,175.0 L1015.6,178.6 L1012.5,182.1 L1010.0,185.6 L1008.1,189.0 L1006.6,192.3 L1005.5,195.4 L1004.6,198.3 L1003.9,200.8 L1003.4,203.0 L1003.0,205.0Z" fill="#57aa46"/><path d="M962.0,200.0 L964.4,198.0 L967.0,195.7 L969.9,193.1 L973.2,190.1 L976.6,187.0 L980.1,183.9 L983.5,180.9 L986.8,178.2 L990.0,175.5 L993.1,173.0 L996.3,170.4 L999.4,167.9 L1002.5,165.5 L1005.5,163.2 L1008.3,161.1 L1011.1,159.2 L1013.9,157.5 L1016.7,156.1 L1019.4,154.8 L1022.1,153.7 L1024.5,152.7 L1026.8,151.8 L1028.7,151.1 L1030.5,150.4 L1029.5,147.6 L1027.7,148.1 L1025.7,148.7 L1023.4,149.4 L1020.8,150.2 L1017.9,151.1 L1014.9,152.3 L1011.9,153.6 L1008.8,155.1 L1005.7,156.9 L1002.5,158.9 L999.2,161.0 L995.9,163.3 L992.6,165.7 L989.4,168.4 L986.2,171.2 L983.1,174.2 L980.0,177.4 L977.0,180.8 L973.9,184.4 L971.0,188.0 L968.3,191.5 L965.9,194.7 L963.8,197.5 L962.0,200.0Z" fill="#4b9f3f"/><path d="M975.0,214.0 L977.2,211.6 L979.6,209.0 L982.4,205.8 L985.4,202.4 L988.5,198.7 L991.6,195.0 L994.6,191.5 L997.4,188.1 L1000.1,184.9 L1002.7,181.8 L1005.2,178.7 L1007.6,175.7 L1009.9,172.7 L1012.2,170.0 L1014.5,167.6 L1016.8,165.4 L1019.2,163.4 L1021.8,161.6 L1024.4,160.1 L1027.0,158.7 L1029.6,157.5 L1031.9,156.4 L1033.9,155.5 L1035.7,154.6 L1034.3,151.4 L1032.5,152.1 L1030.4,152.8 L1028.0,153.7 L1025.2,154.7 L1022.3,155.9 L1019.3,157.4 L1016.3,159.1 L1013.4,161.1 L1010.6,163.3 L1007.8,165.8 L1005.1,168.4 L1002.4,171.3 L999.8,174.3 L997.3,177.5 L994.8,180.8 L992.4,184.2 L989.9,187.9 L987.3,191.9 L984.8,196.1 L982.4,200.3 L980.1,204.3 L978.1,207.9 L976.5,211.1 L975.0,214.0Z" fill="#57aa46"/><path d="M990.0,222.0 L991.7,219.8 L993.5,217.4 L995.6,214.5 L997.8,211.3 L1000.3,207.9 L1002.7,204.5 L1005.2,201.1 L1007.6,197.7 L1010.1,194.4 L1012.6,191.1 L1015.2,187.6 L1017.7,184.1 L1020.1,180.7 L1022.4,177.5 L1024.7,174.6 L1026.8,172.1 L1028.8,170.0 L1030.8,168.2 L1032.8,166.7 L1034.7,165.3 L1036.5,164.2 L1038.1,163.2 L1039.6,162.3 L1040.8,161.5 L1039.2,158.5 L1037.8,159.1 L1036.3,159.8 L1034.6,160.7 L1032.6,161.7 L1030.3,163.0 L1028.0,164.5 L1025.6,166.3 L1023.1,168.4 L1020.5,170.9 L1017.9,173.7 L1015.1,176.8 L1012.3,180.0 L1009.6,183.5 L1007.1,187.1 L1004.7,190.7 L1002.5,194.3 L1000.4,198.1 L998.4,201.9 L996.6,205.8 L994.9,209.6 L993.4,213.3 L992.1,216.6 L990.9,219.4 L990.0,222.0Z" fill="#62b552"/><path d="M1006.0,226.0 L1007.2,223.9 L1008.5,221.6 L1009.9,218.9 L1011.5,215.9 L1013.2,212.7 L1014.9,209.5 L1016.6,206.3 L1018.4,203.2 L1020.1,200.1 L1021.8,197.1 L1023.6,194.0 L1025.3,190.9 L1027.0,187.8 L1028.6,184.9 L1030.3,182.1 L1031.9,179.7 L1033.7,177.4 L1035.6,175.3 L1037.5,173.4 L1039.5,171.6 L1041.4,170.0 L1043.1,168.6 L1044.6,167.3 L1045.9,166.2 L1044.1,163.8 L1042.7,164.8 L1041.1,165.9 L1039.2,167.2 L1037.1,168.7 L1034.9,170.4 L1032.6,172.3 L1030.4,174.4 L1028.2,176.7 L1026.1,179.2 L1024.1,181.9 L1022.1,184.8 L1020.1,187.9 L1018.3,191.1 L1016.7,194.4 L1015.2,197.6 L1013.7,200.9 L1012.4,204.3 L1011.1,207.8 L1010.0,211.3 L1008.9,214.8 L1008.0,218.1 L1007.2,221.1 L1006.5,223.7 L1006.0,226.0Z" fill="#4b9f3f"/><path d="M942.0,203.0 L944.2,201.1 L946.5,198.9 L949.3,196.3 L952.3,193.5 L955.6,190.5 L959.1,187.5 L962.7,184.5 L966.5,181.5 L970.6,178.6 L975.1,175.5 L979.8,172.2 L984.6,169.0 L989.3,166.0 L993.5,163.3 L997.2,161.0 L1000.5,158.9 L999.5,157.1 L996.1,159.0 L992.3,161.2 L987.8,163.6 L983.0,166.4 L977.9,169.3 L972.9,172.3 L968.3,175.3 L964.1,178.5 L960.4,181.8 L956.9,185.1 L953.7,188.6 L950.7,192.0 L948.1,195.2 L945.7,198.1 L943.8,200.7 L942.0,203.0Z" fill="#57aa46"/><path d="M956.0,219.0 L958.0,216.7 L960.1,214.1 L962.6,211.1 L965.3,207.7 L968.2,204.1 L971.3,200.5 L974.4,196.9 L977.7,193.3 L981.1,189.7 L984.8,185.9 L988.7,182.0 L992.7,178.1 L996.5,174.5 L1000.0,171.2 L1003.0,168.3 L1005.7,165.7 L1004.3,164.3 L1001.5,166.6 L998.3,169.3 L994.6,172.4 L990.6,175.8 L986.4,179.5 L982.2,183.2 L978.3,186.9 L974.8,190.7 L971.6,194.5 L968.7,198.4 L965.9,202.4 L963.4,206.4 L961.2,210.1 L959.2,213.4 L957.5,216.4 L956.0,219.0Z" fill="#4b9f3f"/><path d="M918.0,195.0 L920.0,193.6 L922.2,192.1 L924.7,190.3 L927.5,188.2 L930.6,186.0 L933.9,183.8 L937.4,181.5 L941.1,179.1 L945.2,176.6 L949.7,173.9 L954.5,171.0 L959.3,168.1 L964.0,165.3 L968.3,162.8 L972.1,160.6 L975.4,158.7 L974.6,157.3 L971.2,159.1 L967.4,161.1 L963.0,163.4 L958.2,166.0 L953.1,168.7 L948.2,171.4 L943.6,174.1 L939.6,176.8 L935.9,179.4 L932.5,182.0 L929.4,184.5 L926.5,187.0 L924.0,189.4 L921.7,191.5 L919.7,193.3 L918.0,195.0Z" fill="#6a9a58"/><path d="M1035,142 Q965,155 888,200" stroke="#46703a" stroke-width="1.8" fill="none"/>
<rect x="0" y="0" width="1023" height="67" fill="#494fa2"/>

<path d="M37.4,17.1 H46.2 V38 L48.6,41.5 L51,38 V17.1 H60.1 V41 L48.6,50.6 L37.4,41 Z" fill="#fff"/>
<path d="M62.1,17.1 H71.3 V50.6 H62.1 Z" fill="#fff"/>
<path d="M72.7,17.1 H81.5 V38 L84.2,41.8 L86.9,38 V17.1 H95.4 V41 L83.9,51 L72.7,41 Z" fill="#fff"/>
<path fill-rule="evenodd" d="M98.1,50.6 V21 L102,17.1 H117 L120.1,20.2 V50.6 H111.3 V39.1 H106.2 V50.6 Z M106.2,24.5 H111.3 V30.6 H106.2 Z" fill="#fff"/>

<rect x="966.7" y="0" width="24.3" height="103.8" fill="#f2774f"/>
<path d="M971.5,64.8 H976.4 V79 L979.1,82 L981.7,79 V64.8 H986.6 V80.7 L979.1,87.8 L971.5,80.7 Z" fill="#4c4aa6"/>
<rect x="0" y="0" width="1023" height="1.4" fill="rgba(255,255,255,0.22)"/>
<rect x="26.4" y="195.95" width="701.4" height="1.5" fill="#dedede"/><rect x="26.4" y="228.95" width="701.4" height="1.5" fill="#dedede"/><rect x="26.4" y="261.25" width="701.4" height="1.5" fill="#dedede"/><rect x="26.4" y="365.85" width="701.4" height="1.5" fill="#dedede"/><rect x="26.4" y="398.45" width="701.4" height="1.5" fill="#dedede"/><rect x="26.4" y="430.45" width="701.4" height="1.5" fill="#dedede"/><rect x="26.4" y="463.35" width="701.4" height="1.5" fill="#dedede"/>
<rect x="28.1" y="129.1" width="168.6" height="24.6" fill="none" stroke="#dca08a" stroke-width="1.7"/><rect x="28.1" y="297.7" width="168.6" height="25.0" fill="none" stroke="#c4a596" stroke-width="1.7"/>
<rect x="0" y="574.9" width="1023" height="45.1" fill="#f17a59"/><rect x="172" y="580.8" width="2" height="29.2" fill="#fde6d6"/>
<text x="64.9" y="102.3" font-family='"Liberation Serif", serif' font-size="16.5" font-weight="bold" fill="#3c3f84" textLength="79.7" lengthAdjust="spacingAndGlyphs"  stroke="#3c3f84" stroke-width="0.45">Floor Plan</text><text x="245.4" y="102.8" font-family='"Liberation Serif", serif' font-size="16.5" font-weight="bold" fill="#3c3f84" textLength="88.4" lengthAdjust="spacingAndGlyphs"  stroke="#3c3f84" stroke-width="0.45">Unit Profile</text><text x="450.6" y="103.2" font-family='"Liberation Serif", serif' font-size="16.5" font-weight="bold" fill="#3c3f84" textLength="46.9" lengthAdjust="spacingAndGlyphs"  stroke="#3c3f84" stroke-width="0.45">Sq. Ft.</text><text x="536.2" y="103.2" font-family='"Liberation Serif", serif' font-size="16.5" font-weight="bold" fill="#3c3f84" textLength="37.5" lengthAdjust="spacingAndGlyphs"  stroke="#3c3f84" stroke-width="0.45">Beds</text><text x="630.5" y="103.2" font-family='"Liberation Serif", serif' font-size="16.5" font-weight="bold" fill="#3c3f84" textLength="40.5" lengthAdjust="spacingAndGlyphs"  stroke="#3c3f84" stroke-width="0.45">Price</text><text x="37.0" y="146.0" font-family='"Liberation Sans", sans-serif' font-size="13.6" font-weight="bold" fill="#d4876b" textLength="153.2" lengthAdjust="spacingAndGlyphs"  letter-spacing="0.7">TOWNHOMES (B2B)</text><text x="42.6" y="315.4" font-family='"Liberation Sans", sans-serif' font-size="13.6" font-weight="bold" fill="#d67a5c" textLength="140.7" lengthAdjust="spacingAndGlyphs"  letter-spacing="0.7">STACKED TOWNS</text><text x="64.9" y="185.7" font-family='"Liberation Sans", sans-serif' font-size="14" font-weight="bold" fill="#4d4d4d" textLength="102.1" lengthAdjust="spacingAndGlyphs"  letter-spacing="0.5">The Hibiscus</text><text x="244.9" y="185.7" font-family='"Liberation Sans", sans-serif' font-size="14" font-weight="bold" fill="#4d4d4d" textLength="58.8" lengthAdjust="spacingAndGlyphs"  letter-spacing="0.5">Interior</text><text x="328.9" y="184.7" font-family='"Liberation Sans", sans-serif' font-size="8.4" font-weight="bold" fill="#4d4d4d" textLength="75.1" lengthAdjust="spacingAndGlyphs"  letter-spacing="0.5">3-storey, garage</text><text x="461.3" y="185.7" font-family='"Liberation Sans", sans-serif' font-size="14" font-weight="bold" fill="#4d4d4d" textLength="34.4" lengthAdjust="spacingAndGlyphs"  letter-spacing="0.5">1,174</text><text x="548.0" y="185.7" font-family='"Liberation Sans", sans-serif' font-size="14" font-weight="bold" fill="#4d4d4d" textLength="7.8" lengthAdjust="spacingAndGlyphs"  letter-spacing="0.5">2</text><text x="638.6" y="185.7" font-family='"Liberation Sans", sans-serif' font-size="14" font-weight="bold" fill="#4d4d4d" textLength="70.3" lengthAdjust="spacingAndGlyphs"  letter-spacing="0.5">$675,050</text><text x="64.9" y="218.8" font-family='"Liberation Sans", sans-serif' font-size="14" font-weight="bold" fill="#4d4d4d" textLength="102.1" lengthAdjust="spacingAndGlyphs"  letter-spacing="0.5">The Hibiscus</text><text x="244.9" y="218.8" font-family='"Liberation Sans", sans-serif' font-size="14" font-weight="bold" fill="#4d4d4d" textLength="28.9" lengthAdjust="spacingAndGlyphs"  letter-spacing="0.5">End</text><text x="328.9" y="217.8" font-family='"Liberation Sans", sans-serif' font-size="8.4" font-weight="bold" fill="#4d4d4d" textLength="75.1" lengthAdjust="spacingAndGlyphs"  letter-spacing="0.5">3-storey, garage</text><text x="461.3" y="218.8" font-family='"Liberation Sans", sans-serif' font-size="14" font-weight="bold" fill="#4d4d4d" textLength="37.7" lengthAdjust="spacingAndGlyphs"  letter-spacing="0.5">1,336</text><text x="548.0" y="218.8" font-family='"Liberation Sans", sans-serif' font-size="14" font-weight="bold" fill="#4d4d4d" textLength="7.8" lengthAdjust="spacingAndGlyphs"  letter-spacing="0.5">2</text><text x="638.6" y="218.8" font-family='"Liberation Sans", sans-serif' font-size="14" font-weight="bold" fill="#4d4d4d" textLength="72.0" lengthAdjust="spacingAndGlyphs"  letter-spacing="0.5">$734,800</text><text x="64.9" y="251.7" font-family='"Liberation Sans", sans-serif' font-size="14" font-weight="bold" fill="#4d4d4d" textLength="102.1" lengthAdjust="spacingAndGlyphs"  letter-spacing="0.5">The Hibiscus</text><text x="244.9" y="251.7" font-family='"Liberation Sans", sans-serif' font-size="14" font-weight="bold" fill="#4d4d4d" textLength="28.9" lengthAdjust="spacingAndGlyphs"  letter-spacing="0.5">End</text><text x="328.9" y="250.7" font-family='"Liberation Sans", sans-serif' font-size="8.4" font-weight="bold" fill="#4d4d4d" textLength="37.4" lengthAdjust="spacingAndGlyphs"  letter-spacing="0.5">3-storey</text><text x="461.3" y="251.7" font-family='"Liberation Sans", sans-serif' font-size="14" font-weight="bold" fill="#4d4d4d" textLength="38.5" lengthAdjust="spacingAndGlyphs"  letter-spacing="0.5">1,450</text><text x="548.0" y="251.7" font-family='"Liberation Sans", sans-serif' font-size="14" font-weight="bold" fill="#4d4d4d" textLength="7.8" lengthAdjust="spacingAndGlyphs"  letter-spacing="0.5">2</text><text x="638.6" y="251.7" font-family='"Liberation Sans", sans-serif' font-size="14" font-weight="bold" fill="#4d4d4d" textLength="70.8" lengthAdjust="spacingAndGlyphs"  letter-spacing="0.5">$725,000</text><text x="64.9" y="356.1" font-family='"Liberation Sans", sans-serif' font-size="14" font-weight="bold" fill="#4d4d4d" textLength="83.5" lengthAdjust="spacingAndGlyphs"  letter-spacing="0.5">The Agave</text><text x="244.9" y="356.1" font-family='"Liberation Sans", sans-serif' font-size="14" font-weight="bold" fill="#4d4d4d" textLength="58.8" lengthAdjust="spacingAndGlyphs"  letter-spacing="0.5">Interior</text><text x="328.9" y="355.1" font-family='"Liberation Sans", sans-serif' font-size="8.4" font-weight="bold" fill="#4d4d4d" textLength="27.3" lengthAdjust="spacingAndGlyphs"  letter-spacing="0.5">Upper</text><text x="461.3" y="356.1" font-family='"Liberation Sans", sans-serif' font-size="14" font-weight="bold" fill="#4d4d4d" textLength="32.0" lengthAdjust="spacingAndGlyphs"  letter-spacing="0.5">1,116</text><text x="548.0" y="356.1" font-family='"Liberation Sans", sans-serif' font-size="14" font-weight="bold" fill="#4d4d4d" textLength="8.2" lengthAdjust="spacingAndGlyphs"  letter-spacing="0.5">2</text><text x="638.6" y="356.1" font-family='"Liberation Sans", sans-serif' font-size="14" font-weight="bold" fill="#4d4d4d" textLength="68.5" lengthAdjust="spacingAndGlyphs"  letter-spacing="0.5">$641,700</text><text x="64.9" y="388.3" font-family='"Liberation Sans", sans-serif' font-size="14" font-weight="bold" fill="#4d4d4d" textLength="83.5" lengthAdjust="spacingAndGlyphs"  letter-spacing="0.5">The Agave</text><text x="244.9" y="388.3" font-family='"Liberation Sans", sans-serif' font-size="14" font-weight="bold" fill="#4d4d4d" textLength="28.9" lengthAdjust="spacingAndGlyphs"  letter-spacing="0.5">End</text><text x="328.9" y="387.3" font-family='"Liberation Sans", sans-serif' font-size="8.4" font-weight="bold" fill="#4d4d4d" textLength="27.3" lengthAdjust="spacingAndGlyphs"  letter-spacing="0.5">Upper</text><text x="461.3" y="388.3" font-family='"Liberation Sans", sans-serif' font-size="14" font-weight="bold" fill="#4d4d4d" textLength="37.7" lengthAdjust="spacingAndGlyphs"  letter-spacing="0.5">1,229</text><text x="548.0" y="388.3" font-family='"Liberation Sans", sans-serif' font-size="14" font-weight="bold" fill="#4d4d4d" textLength="8.2" lengthAdjust="spacingAndGlyphs"  letter-spacing="0.5">2</text><text x="638.6" y="388.3" font-family='"Liberation Sans", sans-serif' font-size="14" font-weight="bold" fill="#4d4d4d" textLength="71.7" lengthAdjust="spacingAndGlyphs"  letter-spacing="0.5">$706,675</text><text x="64.9" y="421.0" font-family='"Liberation Sans", sans-serif' font-size="14" font-weight="bold" fill="#4d4d4d" textLength="108.6" lengthAdjust="spacingAndGlyphs"  letter-spacing="0.5">The Monstera</text><text x="244.9" y="421.0" font-family='"Liberation Sans", sans-serif' font-size="14" font-weight="bold" fill="#4d4d4d" textLength="58.8" lengthAdjust="spacingAndGlyphs"  letter-spacing="0.5">Interior</text><text x="328.9" y="420.0" font-family='"Liberation Sans", sans-serif' font-size="8.4" font-weight="bold" fill="#4d4d4d" textLength="27.3" lengthAdjust="spacingAndGlyphs"  letter-spacing="0.5">Lower</text><text x="461.3" y="421.0" font-family='"Liberation Sans", sans-serif' font-size="14" font-weight="bold" fill="#4d4d4d" textLength="27.3" lengthAdjust="spacingAndGlyphs"  letter-spacing="0.5">997</text><text x="548.0" y="421.0" font-family='"Liberation Sans", sans-serif' font-size="14" font-weight="bold" fill="#4d4d4d" textLength="53.9" lengthAdjust="spacingAndGlyphs"  letter-spacing="0.5">1 + den</text><text x="638.6" y="421.0" font-family='"Liberation Sans", sans-serif' font-size="14" font-weight="bold" fill="#4d4d4d" textLength="70.6" lengthAdjust="spacingAndGlyphs"  letter-spacing="0.5">$534,900</text><text x="64.9" y="453.6" font-family='"Liberation Sans", sans-serif' font-size="14" font-weight="bold" fill="#4d4d4d" textLength="108.6" lengthAdjust="spacingAndGlyphs"  letter-spacing="0.5">The Monstera</text><text x="244.9" y="453.6" font-family='"Liberation Sans", sans-serif' font-size="14" font-weight="bold" fill="#4d4d4d" textLength="28.9" lengthAdjust="spacingAndGlyphs"  letter-spacing="0.5">End</text><text x="328.9" y="452.6" font-family='"Liberation Sans", sans-serif' font-size="8.4" font-weight="bold" fill="#4d4d4d" textLength="27.3" lengthAdjust="spacingAndGlyphs"  letter-spacing="0.5">Lower</text><text x="461.3" y="453.6" font-family='"Liberation Sans", sans-serif' font-size="14" font-weight="bold" fill="#4d4d4d" textLength="32.2" lengthAdjust="spacingAndGlyphs"  letter-spacing="0.5">1,114</text><text x="548.0" y="453.6" font-family='"Liberation Sans", sans-serif' font-size="14" font-weight="bold" fill="#4d4d4d" textLength="53.9" lengthAdjust="spacingAndGlyphs"  letter-spacing="0.5">1 + den</text><text x="638.6" y="453.6" font-family='"Liberation Sans", sans-serif' font-size="14" font-weight="bold" fill="#4d4d4d" textLength="73.4" lengthAdjust="spacingAndGlyphs"  letter-spacing="0.5">$584,850</text><text x="778.5" y="282.2" font-family='"Liberation Serif", serif' font-size="17" font-weight="bold" fill="#3c3f84" textLength="136.5" lengthAdjust="spacingAndGlyphs"  stroke="#3c3f84" stroke-width="0.45">Deposit Structure</text><text x="778.5" y="307.0" font-family='"Liberation Sans", sans-serif' font-size="9.4" font-weight="bold" fill="#4d4d4d" textLength="121.9" lengthAdjust="spacingAndGlyphs"  letter-spacing="0.5">$5,000 with reservation</text><text x="778.5" y="320.0" font-family='"Liberation Sans", sans-serif' font-size="9.4" font-weight="bold" fill="#4d4d4d" textLength="210.7" lengthAdjust="spacingAndGlyphs"  letter-spacing="0.5">10% on signing (less reservation deposit)</text><text x="778.5" y="358.7" font-family='"Liberation Serif", serif' font-size="17" font-weight="bold" fill="#3c3f84" textLength="140.3" lengthAdjust="spacingAndGlyphs"  stroke="#3c3f84" stroke-width="0.45">Maintenance Fees</text><text x="778.5" y="378.0" font-family='"Liberation Sans", sans-serif' font-size="9.4" font-weight="bold" fill="#4d4d4d" textLength="93.8" lengthAdjust="spacingAndGlyphs"  letter-spacing="0.5">$0.32/sq.ft./Month</text><text x="778.3" y="418.8" font-family='"Liberation Serif", serif' font-size="17" font-weight="bold" fill="#3c3f84" textLength="60.2" lengthAdjust="spacingAndGlyphs"  stroke="#3c3f84" stroke-width="0.45">Parking</text><text x="778.3" y="437.5" font-family='"Liberation Sans", sans-serif' font-size="10.8" font-weight="bold" fill="#41447f" textLength="98.9" lengthAdjust="spacingAndGlyphs"  letter-spacing="0.5">STACKED TOWNS</text><text x="778.3" y="449.5" font-family='"Liberation Sans", sans-serif' font-size="9.4" font-weight="bold" fill="#4d4d4d" textLength="130.4" lengthAdjust="spacingAndGlyphs"  letter-spacing="0.5">Surface parking: $15,000*</text><text x="778.3" y="470.6" font-family='"Liberation Sans", sans-serif' font-size="10.8" font-weight="bold" fill="#41447f" textLength="68.1" lengthAdjust="spacingAndGlyphs"  letter-spacing="0.5">B2B TOWNS</text><text x="778.3" y="482.7" font-family='"Liberation Sans", sans-serif' font-size="9.4" font-weight="bold" fill="#4d4d4d" textLength="87.7" lengthAdjust="spacingAndGlyphs"  letter-spacing="0.5">Parking included</text><text x="776.8" y="520.3" font-family='"Liberation Serif", serif' font-size="17" font-weight="bold" fill="#3c3f84" textLength="58.5" lengthAdjust="spacingAndGlyphs"  stroke="#3c3f84" stroke-width="0.45">Closing</text><text x="776.8" y="539.0" font-family='"Liberation Sans", sans-serif' font-size="9.4" font-weight="bold" fill="#4d4d4d" textLength="48.9" lengthAdjust="spacingAndGlyphs"  letter-spacing="0.5">Late 2025</text><text x="36.9" y="554.6" font-family='"Liberation Sans", sans-serif' font-size="8.3" font-weight="normal" fill="#707070" textLength="444.0" lengthAdjust="spacingAndGlyphs"  letter-spacing="0.5">See Sales Representative for further details. Prices and specifications are subject to change without notice.</text><text x="36.9" y="564.7" font-family='"Liberation Sans", sans-serif' font-size="8.3" font-weight="normal" fill="#707070" textLength="383.0" lengthAdjust="spacingAndGlyphs"  letter-spacing="0.5">Sq. Ft. follow Tarion guidelines. Parking is available on a first-come basis. E. &amp; O. E. August 2023</text><text x="848.6" y="52.0" font-family='"Liberation Serif", serif' font-size="26" font-weight="bold" fill="#ffffff" textLength="105.0" lengthAdjust="spacingAndGlyphs"  stroke="#ffffff" stroke-width="0.45">Price list</text><text x="42.1" y="601.2" text-anchor="middle" font-family='"Liberation Sans", sans-serif' font-size="18.9" fill="#fdf1e8" stroke="#fdf1e8" stroke-width="0.55">P</text><text x="56.1" y="601.2" text-anchor="middle" font-family='"Liberation Sans", sans-serif' font-size="18.9" fill="#fdf1e8" stroke="#fdf1e8" stroke-width="0.55">O</text><text x="69.2" y="601.2" text-anchor="middle" font-family='"Liberation Sans", sans-serif' font-size="18.9" fill="#fdf1e8" stroke="#fdf1e8" stroke-width="0.55">L</text><text x="77.8" y="601.2" text-anchor="middle" font-family='"Liberation Sans", sans-serif' font-size="18.9" fill="#fbeef0" stroke="#fbeef0" stroke-width="0.55">O</text><text x="85.9" y="601.2" text-anchor="middle" font-family='"Liberation Sans", sans-serif' font-size="18.9" fill="#ecdde6" stroke="#ecdde6" stroke-width="0.55">C</text><text x="100.4" y="601.2" text-anchor="middle" font-family='"Liberation Sans", sans-serif' font-size="18.9" fill="#ecdde6" stroke="#ecdde6" stroke-width="0.55">O</text><text x="114.4" y="601.2" text-anchor="middle" font-family='"Liberation Sans", sans-serif' font-size="18.9" fill="#ecdde6" stroke="#ecdde6" stroke-width="0.55">R</text><text x="126.2" y="601.2" text-anchor="middle" font-family='"Liberation Sans", sans-serif' font-size="18.9" fill="#ecdde6" stroke="#ecdde6" stroke-width="0.55">P</text><text x="194.8" y="596.0" font-family='"Liberation Sans", sans-serif' font-size="11.2" font-weight="bold" fill="#fff3ea" textLength="314.4" lengthAdjust="spacingAndGlyphs"  letter-spacing="0.5">Faisal Susiwala, Broker of Record | Faisal@homeshack.com</text><text x="194.8" y="606.8" font-family='"Liberation Sans", sans-serif' font-size="11.2" font-weight="bold" fill="#fff3ea" textLength="212.2" lengthAdjust="spacingAndGlyphs"  letter-spacing="0.5">Re/Max Twin City Faisal Susiwala Realty</text><text x="833.4" y="602.2" font-family='"Liberation Sans", sans-serif' font-size="21.8" font-weight="normal" fill="#fff5ea" textLength="145.6" lengthAdjust="spacingAndGlyphs" stroke="#fff5ea" stroke-width="0.85" letter-spacing="0.3">vivatowns.ca</text>
<path fill-rule="evenodd" d="M2,2 H120 V120 H2 Z M7,7 H107.8 V112.5 H7 Z" fill="rgba(255,255,255,0.3)"/><path fill-rule="evenodd" d="M7,7 H107.8 V112.5 H7 Z M20.8,18.6 H48.8 V99 H20.8 Z M61,18.6 H72 C82,18.6 86,25 86,37 C86,50 80,57.5 72,57.5 H61 Z M61,60.8 L100.3,99 H61 Z" fill="rgba(0,0,0,0.3)"/><path d="M20.8,18.6 H48.8 V99 H20.8 Z M61,18.6 H72 C82,18.6 86,25 86,37 C86,50 80,57.5 72,57.5 H61 Z M61,60.8 L100.3,99 H61 Z" fill="rgba(255,255,255,0.3)"/><text x="5.8" y="135.8" font-family='"Liberation Sans", sans-serif' font-size="23.5" font-weight="normal" fill="rgba(0,0,0,0.34)" letter-spacing="2" textLength="103" lengthAdjust="spacingAndGlyphs">REALTOR</text><circle cx="113" cy="119" r="4.3" fill="none" stroke="rgba(0,0,0,0.3)" stroke-width="1"/><text x="110.6" y="121.4" font-family='"Liberation Sans", sans-serif' font-size="6.5" fill="rgba(0,0,0,0.3)">R</text><text x="3.6" y="616" font-family='"Liberation Sans", sans-serif' font-size="13" font-weight="bold" fill="rgba(255,215,200,0.7)" stroke="rgba(120,55,40,0.5)" stroke-width="1.4" paint-order="stroke" textLength="100" lengthAdjust="spacingAndGlyphs">Licensed to WRAR</text>
</svg>
</body></html>
